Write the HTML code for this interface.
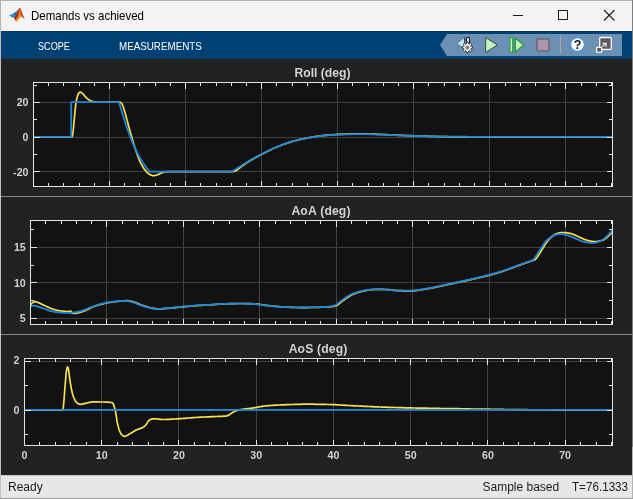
<!DOCTYPE html>
<html><head><meta charset="utf-8"><title>Demands vs achieved</title>
<style>
html,body{margin:0;padding:0;}
body{width:633px;height:499px;overflow:hidden;position:relative;background:#222222;font-family:"Liberation Sans",Arial,sans-serif;}
#win{position:absolute;left:0;top:0;width:633px;height:499px;overflow:hidden;}
#titlebar{position:absolute;left:0;top:0;width:633px;height:30px;background:#f3f3f3;border-top:1px solid #b4b4b4;box-sizing:border-box;}
#tbline{position:absolute;left:0;top:30px;width:633px;height:1px;background:#fffffc;}
#title{position:absolute;left:30.5px;top:9px;font-size:12.4px;line-height:15px;color:#000;white-space:nowrap;transform-origin:0 0;transform:scaleX(0.927);}
#strip{position:absolute;left:0;top:31px;width:633px;height:28px;background:#004073;border-top:1px solid #003366;box-sizing:border-box;}
.tab{position:absolute;top:39px;font-size:10.8px;line-height:14px;color:#fff;white-space:nowrap;transform-origin:0 0;}
#qab{position:absolute;left:0;top:0;}
#plot{position:absolute;left:0;top:59px;width:633px;height:416px;background:#222222;}
.sep{position:absolute;left:1px;width:631px;height:1px;background:#858585;}
#status{position:absolute;left:0;top:475px;width:633px;height:24px;background:#e7e7e7;font-size:12px;color:#1a1a1a;border-top:1px solid #c6c6c6;box-sizing:border-box;}
#status span{position:absolute;top:4px;line-height:14px;white-space:nowrap;}
#lb{position:absolute;left:0;top:0;width:1px;height:499px;background:linear-gradient(#b2b2b2 0,#b2b2b2 31px,#c2c0bb 31px);}
#rb{position:absolute;left:632px;top:0;width:1px;height:499px;background:linear-gradient(#7e7e7e 0,#7e7e7e 447px,#b4b4b4 447px);}
#bb{position:absolute;left:0;top:498px;width:633px;height:1px;background:#9a9a9a;}
svg#ov{position:absolute;left:0;top:0;}
.g{stroke:#424242;stroke-width:1;shape-rendering:crispEdges;}
.t{stroke:#e4e4e4;stroke-width:1;shape-rendering:crispEdges;}
.b{fill:none;stroke:#e4e4e4;stroke-width:1;shape-rendering:crispEdges;}
.y{fill:none;stroke:#f5e04e;stroke-width:1.7;stroke-linejoin:round;}
.bl{fill:none;stroke:#2286d8;stroke-width:1.8;stroke-linejoin:round;}
.yl,.xl,.ttl{position:absolute;font-weight:bold;color:#d2d2d2;white-space:nowrap;}
.yl{font-size:10.67px;line-height:14px;text-align:right;}
.xl{font-size:10.67px;line-height:14px;width:40px;text-align:center;}
.ttl{font-size:12.2px;line-height:14px;width:200px;text-align:center;font-kerning:none;}
</style></head>
<body>
<div id="win">
<div id="titlebar"></div><div id="tbline"></div>
<div id="title">Demands vs achieved</div>
<div id="strip"></div>
<div class="tab" style="left:38px;transform:scaleX(0.845)">SCOPE</div>
<div class="tab" style="left:119px;transform:scaleX(0.908)">MEASUREMENTS</div>
<div id="plot"></div>
<div class="sep" style="top:196px"></div>
<div class="sep" style="top:334px"></div>
<svg id="ov" width="633" height="499" viewBox="0 0 633 499">
<rect x="33.5" y="82.5" width="579.0" height="104.0" fill="#121212"/>
<line x1="109.55" y1="82.5" x2="109.55" y2="186.5" class="g"/>
<line x1="185.60" y1="82.5" x2="185.60" y2="186.5" class="g"/>
<line x1="261.65" y1="82.5" x2="261.65" y2="186.5" class="g"/>
<line x1="337.70" y1="82.5" x2="337.70" y2="186.5" class="g"/>
<line x1="413.75" y1="82.5" x2="413.75" y2="186.5" class="g"/>
<line x1="489.80" y1="82.5" x2="489.80" y2="186.5" class="g"/>
<line x1="565.86" y1="82.5" x2="565.86" y2="186.5" class="g"/>
<line x1="33.5" y1="102.50" x2="612.5" y2="102.50" class="g"/>
<line x1="33.5" y1="137.50" x2="612.5" y2="137.50" class="g"/>
<line x1="33.5" y1="171.50" x2="612.5" y2="171.50" class="g"/>
<svg x="33.5" y="82.5" width="579.0" height="104.0" viewBox="33.5 82.5 579.0 104.0"><path d="M33.5,137.2 L71.8,137.2 L72.3,136.2 L72.8,134.0 L73.3,129.9 L73.8,124.1 L74.3,119.0 L74.8,113.7 L75.3,108.6 L75.8,104.4 L76.3,101.2 L76.8,98.7 L77.3,96.6 L77.8,95.1 L78.3,93.9 L78.8,93.0 L79.3,92.6 L79.8,92.2 L80.3,92.1 L80.8,92.2 L81.3,92.5 L81.8,92.9 L82.3,93.2 L82.8,93.7 L83.3,94.3 L83.8,94.9 L84.3,95.5 L84.8,96.1 L85.3,96.6 L85.8,97.1 L86.3,97.7 L86.8,98.2 L87.3,98.6 L87.8,99.0 L88.3,99.4 L88.8,99.8 L89.3,100.1 L89.8,100.4 L90.3,100.7 L90.8,100.9 L91.3,101.1 L91.8,101.3 L92.3,101.4 L92.8,101.6 L93.3,101.7 L93.8,101.8 L94.3,101.9 L94.8,102.0 L95.3,102.0 L95.8,102.1 L96.3,102.1 L96.8,102.1 L97.3,102.1 L97.8,102.2 L98.3,102.2 L98.8,102.2 L99.3,102.2 L99.8,102.2 L100.0,102.2 L120.0,102.2 L120.5,102.4 L121.0,102.8 L121.5,103.3 L122.0,104.0 L122.5,104.9 L123.0,106.2 L123.5,107.7 L124.0,109.4 L124.5,111.0 L125.0,112.6 L125.5,114.3 L126.0,116.2 L126.5,118.0 L127.0,119.9 L127.5,121.8 L128.0,123.8 L128.5,125.7 L129.0,127.5 L129.5,129.3 L130.0,131.1 L130.5,132.9 L131.0,134.6 L131.5,136.4 L132.0,138.1 L132.5,139.8 L133.0,141.5 L133.5,143.2 L134.0,144.8 L134.5,146.4 L135.0,148.0 L135.5,149.6 L136.0,151.1 L136.5,152.6 L137.0,154.0 L137.5,155.3 L138.0,156.7 L138.5,158.0 L139.0,159.2 L139.5,160.4 L140.0,161.5 L140.5,162.6 L141.0,163.6 L141.5,164.5 L142.0,165.4 L142.5,166.3 L143.0,167.1 L143.5,167.9 L144.0,168.7 L144.5,169.4 L145.0,170.0 L145.5,170.6 L146.0,171.2 L146.5,171.8 L147.0,172.3 L147.5,172.8 L148.0,173.3 L148.5,173.7 L149.0,174.0 L149.5,174.3 L150.0,174.6 L150.5,174.9 L151.0,175.1 L151.5,175.3 L152.0,175.5 L152.5,175.6 L153.0,175.7 L153.5,175.7 L154.0,175.6 L154.5,175.6 L155.0,175.5 L155.5,175.4 L156.0,175.3 L156.5,175.1 L157.0,175.0 L157.5,174.8 L158.0,174.6 L158.5,174.4 L159.0,174.2 L159.5,173.9 L160.0,173.6 L160.5,173.4 L161.0,173.2 L161.5,173.0 L162.0,172.8 L162.5,172.6 L163.0,172.4 L163.5,172.2 L164.0,172.1 L164.5,172.0 L165.0,171.9 L165.5,171.8 L166.0,171.8 L166.5,171.7 L167.0,171.7 L167.5,171.7 L168.0,171.6 L168.5,171.6 L169.0,171.6 L169.5,171.6 L170.0,171.6 L232.8,171.6 L233.3,171.5 L233.8,171.4 L234.3,171.3 L234.8,171.1 L235.3,170.9 L235.8,170.7 L236.3,170.5 L236.8,170.2 L237.3,169.8 L237.8,169.4 L238.3,169.0 L238.8,168.6 L239.3,168.1 L239.8,167.7 L240.3,167.4 L240.8,167.0 L241.3,166.7 L241.8,166.3 L242.3,165.9 L242.8,165.6 L243.3,165.2 L243.8,164.9 L244.3,164.5 L244.8,164.2 L245.3,163.8 L245.8,163.5 L246.3,163.2 L246.8,162.8 L247.3,162.5 L247.8,162.2 L248.3,161.9 L248.8,161.6 L249.3,161.2 L249.8,160.9 L250.3,160.6 L250.8,160.3 L251.3,160.0 L251.8,159.7 L252.3,159.4 L252.8,159.2 L253.3,158.9 L253.8,158.6 L254.3,158.3 L254.8,158.0 L255.3,157.7 L255.8,157.5 L256.3,157.2 L256.8,156.9 L257.3,156.6 L257.8,156.4 L258.3,156.1 L258.8,155.8 L259.3,155.6 L259.8,155.3 L260.3,155.0 L260.8,154.8 L261.3,154.5 L261.8,154.2 L262.3,154.0 L262.8,153.7 L263.3,153.5 L263.8,153.2 L264.3,153.0 L264.8,152.7 L265.3,152.4 L265.8,152.2 L266.3,151.9 L266.8,151.7 L267.3,151.4 L267.8,151.2 L268.3,150.9 L268.8,150.7 L269.3,150.4 L269.8,150.2 L270.3,149.9 L270.8,149.7 L271.3,149.5 L271.8,149.2 L272.3,149.0 L272.8,148.8 L273.3,148.5 L273.8,148.3 L274.3,148.1 L274.8,147.9 L275.3,147.7 L275.8,147.5 L276.3,147.2 L276.8,147.0 L277.3,146.8 L277.8,146.6 L278.3,146.4 L278.8,146.2 L279.3,146.0 L279.8,145.8 L280.3,145.7 L280.8,145.5 L281.3,145.3 L281.8,145.1 L282.3,144.9 L282.8,144.7 L283.3,144.5 L283.8,144.3 L284.3,144.1 L284.8,144.0 L285.3,143.8 L285.8,143.6 L286.3,143.4 L286.8,143.2 L287.3,143.1 L287.8,142.9 L288.3,142.7 L288.8,142.6 L289.3,142.4 L289.8,142.2 L290.3,142.1 L290.8,141.9 L291.3,141.8 L291.8,141.6 L292.3,141.5 L292.8,141.3 L293.3,141.2 L293.8,141.0 L294.3,140.9 L294.8,140.8 L295.3,140.6 L295.8,140.5 L296.3,140.4 L296.8,140.2 L297.3,140.1 L297.8,140.0 L298.3,139.9 L298.8,139.8 L299.3,139.6 L299.8,139.5 L300.3,139.4 L300.8,139.3 L301.3,139.2 L301.8,139.1 L302.3,139.0 L302.8,138.9 L303.3,138.8 L303.8,138.7 L304.3,138.6 L304.8,138.5 L305.3,138.4 L305.8,138.3 L306.3,138.2 L306.8,138.1 L307.3,138.0 L307.8,137.9 L308.3,137.8 L308.8,137.7 L309.3,137.6 L309.8,137.5 L310.3,137.4 L310.8,137.3 L311.3,137.3 L311.8,137.2 L312.3,137.1 L312.8,137.0 L313.3,136.9 L313.8,136.9 L314.3,136.8 L314.8,136.7 L315.3,136.6 L315.8,136.5 L316.3,136.5 L316.8,136.4 L317.3,136.3 L317.8,136.2 L318.3,136.2 L318.8,136.1 L319.3,136.0 L319.8,135.9 L320.3,135.9 L320.8,135.8 L321.3,135.7 L321.8,135.7 L322.3,135.6 L322.8,135.6 L323.3,135.5 L323.8,135.4 L324.3,135.4 L324.8,135.3 L325.3,135.3 L325.8,135.2 L326.3,135.2 L326.8,135.1 L327.3,135.1 L327.8,135.1 L328.3,135.0 L328.8,135.0 L329.3,134.9 L329.8,134.9 L330.3,134.9 L330.8,134.8 L331.3,134.8 L331.8,134.8 L332.3,134.7 L332.8,134.7 L333.3,134.6 L333.8,134.6 L334.3,134.6 L334.8,134.6 L335.3,134.5 L335.8,134.5 L336.3,134.5 L336.8,134.4 L337.3,134.4 L337.8,134.4 L338.3,134.4 L338.8,134.3 L339.3,134.3 L339.8,134.3 L340.3,134.3 L340.8,134.3 L341.3,134.3 L341.8,134.2 L342.3,134.2 L342.8,134.2 L343.3,134.2 L343.8,134.2 L344.3,134.1 L344.8,134.1 L345.3,134.1 L345.8,134.1 L346.3,134.1 L346.8,134.1 L347.3,134.0 L347.8,134.0 L348.3,134.0 L348.8,134.0 L349.3,134.0 L349.8,134.0 L350.3,133.9 L350.8,133.9 L351.3,133.9 L351.8,133.9 L352.3,133.9 L352.8,133.9 L353.3,133.9 L353.8,133.9 L354.3,133.9 L354.8,133.8 L355.3,133.8 L355.8,133.8 L356.3,133.8 L356.8,133.8 L357.3,133.8 L357.8,133.8 L358.3,133.8 L358.8,133.8 L359.3,133.8 L359.8,133.8 L360.3,133.8 L360.8,133.8 L361.3,133.8 L361.8,133.8 L362.3,133.8 L362.8,133.8 L363.3,133.8 L363.8,133.8 L364.3,133.8 L364.8,133.9 L365.3,133.9 L365.8,133.9 L366.3,133.9 L366.8,133.9 L367.3,133.9 L367.8,133.9 L368.3,134.0 L368.8,134.0 L369.3,134.0 L369.8,134.0 L370.3,134.0 L370.8,134.0 L371.3,134.1 L371.8,134.1 L372.3,134.1 L372.8,134.1 L373.3,134.1 L373.8,134.2 L374.3,134.2 L374.8,134.2 L375.3,134.2 L375.8,134.2 L376.3,134.3 L376.8,134.3 L377.3,134.3 L377.8,134.3 L378.3,134.3 L378.8,134.4 L379.3,134.4 L379.8,134.4 L380.3,134.4 L380.8,134.4 L381.3,134.4 L381.8,134.5 L382.3,134.5 L382.8,134.5 L383.3,134.5 L383.8,134.6 L384.3,134.6 L384.8,134.6 L385.3,134.6 L385.8,134.6 L386.3,134.7 L386.8,134.7 L387.3,134.7 L387.8,134.7 L388.3,134.8 L388.8,134.8 L389.3,134.8 L389.8,134.8 L390.3,134.9 L390.8,134.9 L391.3,134.9 L391.8,134.9 L392.3,135.0 L392.8,135.0 L393.3,135.0 L393.8,135.0 L394.3,135.0 L394.8,135.1 L395.3,135.1 L395.8,135.1 L396.3,135.1 L396.8,135.2 L397.3,135.2 L397.8,135.2 L398.3,135.2 L398.8,135.3 L399.3,135.3 L399.8,135.3 L400.3,135.3 L400.8,135.3 L401.3,135.4 L401.8,135.4 L402.3,135.4 L402.8,135.4 L403.3,135.4 L403.8,135.4 L404.3,135.5 L404.8,135.5 L405.3,135.5 L405.8,135.5 L406.3,135.5 L406.8,135.6 L407.3,135.6 L407.8,135.6 L408.3,135.6 L408.8,135.6 L409.3,135.6 L409.8,135.7 L410.3,135.7 L410.8,135.7 L411.3,135.7 L411.8,135.7 L412.3,135.7 L412.8,135.8 L413.3,135.8 L413.8,135.8 L414.3,135.8 L414.8,135.8 L415.3,135.8 L415.8,135.9 L416.3,135.9 L416.8,135.9 L417.3,135.9 L417.8,135.9 L418.3,135.9 L418.8,136.0 L419.3,136.0 L419.8,136.0 L420.3,136.0 L420.8,136.0 L421.3,136.0 L421.8,136.1 L422.3,136.1 L422.8,136.1 L423.3,136.1 L423.8,136.1 L424.3,136.1 L424.8,136.2 L425.3,136.2 L425.8,136.2 L426.3,136.2 L426.8,136.2 L427.3,136.2 L427.8,136.3 L428.3,136.3 L428.8,136.3 L429.3,136.3 L429.8,136.3 L430.3,136.3 L430.8,136.4 L431.3,136.4 L431.8,136.4 L432.3,136.4 L432.8,136.4 L433.3,136.4 L433.8,136.5 L434.3,136.5 L434.8,136.5 L435.3,136.5 L435.8,136.5 L436.3,136.5 L436.8,136.5 L437.3,136.6 L437.8,136.6 L438.3,136.6 L438.8,136.6 L439.3,136.6 L439.8,136.6 L440.3,136.6 L440.8,136.6 L441.3,136.7 L441.8,136.7 L442.3,136.7 L442.8,136.7 L443.3,136.7 L443.8,136.7 L444.3,136.7 L444.8,136.7 L445.3,136.7 L445.8,136.7 L446.3,136.7 L446.8,136.7 L447.3,136.7 L447.8,136.7 L448.3,136.8 L448.8,136.8 L449.3,136.8 L449.8,136.8 L450.3,136.8 L450.8,136.8 L451.3,136.8 L451.8,136.8 L452.3,136.8 L452.8,136.8 L453.3,136.8 L453.8,136.8 L454.3,136.8 L454.8,136.8 L455.3,136.8 L455.8,136.8 L456.3,136.8 L456.8,136.8 L457.3,136.8 L457.8,136.8 L458.3,136.9 L458.8,136.9 L459.3,136.9 L459.8,136.9 L460.3,136.9 L460.8,136.9 L461.3,136.9 L461.8,136.9 L462.3,136.9 L462.8,136.9 L463.3,136.9 L463.8,136.9 L464.3,136.9 L464.8,136.9 L465.3,136.9 L465.8,136.9 L466.3,136.9 L466.8,136.9 L467.3,136.9 L467.8,136.9 L468.3,136.9 L468.8,136.9 L469.3,136.9 L469.8,136.9 L470.3,136.9 L470.8,136.9 L471.3,136.9 L471.8,136.9 L472.3,137.0 L472.8,137.0 L473.3,137.0 L473.8,137.0 L474.3,137.0 L474.8,137.0 L475.3,137.0 L475.8,137.0 L476.3,137.0 L476.8,137.0 L477.3,137.0 L477.8,137.0 L478.3,137.0 L478.8,137.0 L479.3,137.0 L479.8,137.0 L480.3,137.0 L480.8,137.0 L481.3,137.0 L481.8,137.0 L482.3,137.0 L482.8,137.0 L483.3,137.0 L483.8,137.0 L484.3,137.0 L484.8,137.0 L485.3,137.0 L485.8,137.0 L486.3,137.0 L486.8,137.0 L487.3,137.0 L487.8,137.0 L488.3,137.1 L488.8,137.1 L489.3,137.1 L489.8,137.1 L490.3,137.1 L490.8,137.1 L491.3,137.1 L491.8,137.1 L492.3,137.1 L492.8,137.1 L493.3,137.1 L493.8,137.1 L494.3,137.1 L494.8,137.1 L495.3,137.1 L495.8,137.1 L496.3,137.1 L496.8,137.1 L497.3,137.1 L497.8,137.1 L498.3,137.1 L498.8,137.1 L499.3,137.1 L499.8,137.1 L500.3,137.1 L500.8,137.1 L501.3,137.1 L501.8,137.1 L502.3,137.1 L502.8,137.1 L503.3,137.1 L503.8,137.1 L504.3,137.1 L504.8,137.1 L505.3,137.1 L505.8,137.1 L506.3,137.1 L506.8,137.1 L507.3,137.2 L507.8,137.2 L508.3,137.2 L508.8,137.2 L509.3,137.2 L509.8,137.2 L510.3,137.2 L510.8,137.2 L511.3,137.2 L511.8,137.2 L512.3,137.2 L512.8,137.2 L513.3,137.2 L513.8,137.2 L514.3,137.2 L514.8,137.2 L515.3,137.2 L515.8,137.2 L516.3,137.2 L516.8,137.2 L517.3,137.2 L517.8,137.2 L518.3,137.2 L518.8,137.2 L519.3,137.2 L519.8,137.2 L520.0,137.2 L612.5,137.2" class="y"/><path d="M33.5,136.9 L71.2,136.9 L71.2,102.2 L119.0,102.2 L119.5,103.9 L120.0,105.6 L120.5,107.3 L121.0,109.0 L121.5,110.6 L122.0,112.3 L122.5,113.9 L123.0,115.5 L123.5,117.1 L124.0,118.7 L124.5,120.3 L125.0,121.9 L125.5,123.5 L126.0,125.1 L126.5,126.6 L127.0,128.0 L127.5,129.4 L128.0,130.8 L128.5,132.2 L129.0,133.5 L129.5,134.8 L130.0,136.1 L130.5,137.4 L131.0,138.7 L131.5,139.9 L132.0,141.1 L132.5,142.3 L133.0,143.5 L133.5,144.6 L134.0,145.8 L134.5,146.9 L135.0,148.0 L135.5,149.1 L136.0,150.1 L136.5,151.2 L137.0,152.2 L137.5,153.3 L138.0,154.3 L138.5,155.3 L139.0,156.2 L139.5,157.1 L140.0,158.1 L140.5,158.9 L141.0,159.8 L141.5,160.6 L142.0,161.4 L142.5,162.2 L143.0,163.0 L143.5,163.7 L144.0,164.4 L144.5,165.1 L145.0,165.8 L145.5,166.5 L146.0,167.2 L146.5,167.9 L147.0,168.6 L147.5,169.2 L148.0,169.9 L148.5,170.5 L149.0,171.1 L149.4,171.6 L231.8,171.6 L232.3,171.3 L232.8,171.0 L233.3,170.7 L233.8,170.4 L234.3,170.1 L234.8,169.8 L235.3,169.5 L235.8,169.2 L236.3,168.9 L236.8,168.6 L237.3,168.2 L237.8,167.9 L238.3,167.6 L238.8,167.3 L239.3,167.0 L239.8,166.7 L240.3,166.4 L240.8,166.1 L241.3,165.7 L241.8,165.4 L242.3,165.1 L242.8,164.8 L243.3,164.5 L243.8,164.1 L244.3,163.8 L244.8,163.5 L245.3,163.2 L245.8,162.9 L246.3,162.6 L246.8,162.3 L247.3,162.0 L247.8,161.7 L248.3,161.4 L248.8,161.1 L249.3,160.8 L249.8,160.5 L250.3,160.2 L250.8,159.9 L251.3,159.6 L251.8,159.4 L252.3,159.1 L252.8,158.8 L253.3,158.5 L253.8,158.2 L254.3,158.0 L254.8,157.7 L255.3,157.4 L255.8,157.2 L256.3,156.9 L256.8,156.6 L257.3,156.4 L257.8,156.1 L258.3,155.8 L258.8,155.6 L259.3,155.3 L259.8,155.1 L260.3,154.8 L260.8,154.6 L261.3,154.3 L261.8,154.0 L262.3,153.8 L262.8,153.5 L263.3,153.3 L263.8,153.0 L264.3,152.8 L264.8,152.5 L265.3,152.3 L265.8,152.0 L266.3,151.8 L266.8,151.5 L267.3,151.3 L267.8,151.0 L268.3,150.8 L268.8,150.5 L269.3,150.3 L269.8,150.1 L270.3,149.8 L270.8,149.6 L271.3,149.3 L271.8,149.1 L272.3,148.9 L272.8,148.6 L273.3,148.4 L273.8,148.2 L274.3,148.0 L274.8,147.8 L275.3,147.6 L275.8,147.3 L276.3,147.1 L276.8,146.9 L277.3,146.7 L277.8,146.5 L278.3,146.3 L278.8,146.2 L279.3,146.0 L279.8,145.8 L280.3,145.6 L280.8,145.4 L281.3,145.2 L281.8,145.0 L282.3,144.8 L282.8,144.6 L283.3,144.4 L283.8,144.3 L284.3,144.1 L284.8,143.9 L285.3,143.7 L285.8,143.5 L286.3,143.4 L286.8,143.2 L287.3,143.0 L287.8,142.9 L288.3,142.7 L288.8,142.5 L289.3,142.4 L289.8,142.2 L290.3,142.0 L290.8,141.9 L291.3,141.7 L291.8,141.6 L292.3,141.4 L292.8,141.3 L293.3,141.2 L293.8,141.0 L294.3,140.9 L294.8,140.8 L295.3,140.6 L295.8,140.5 L296.3,140.4 L296.8,140.3 L297.3,140.1 L297.8,140.0 L298.3,139.9 L298.8,139.8 L299.3,139.7 L299.8,139.6 L300.3,139.4 L300.8,139.3 L301.3,139.2 L301.8,139.1 L302.3,139.0 L302.8,138.9 L303.3,138.8 L303.8,138.7 L304.3,138.6 L304.8,138.5 L305.3,138.4 L305.8,138.3 L306.3,138.2 L306.8,138.1 L307.3,138.0 L307.8,137.9 L308.3,137.9 L308.8,137.8 L309.3,137.7 L309.8,137.6 L310.3,137.5 L310.8,137.4 L311.3,137.4 L311.8,137.3 L312.3,137.2 L312.8,137.1 L313.3,137.0 L313.8,137.0 L314.3,136.9 L314.8,136.8 L315.3,136.7 L315.8,136.7 L316.3,136.6 L316.8,136.5 L317.3,136.4 L317.8,136.4 L318.3,136.3 L318.8,136.2 L319.3,136.2 L319.8,136.1 L320.3,136.0 L320.8,136.0 L321.3,135.9 L321.8,135.8 L322.3,135.8 L322.8,135.7 L323.3,135.7 L323.8,135.6 L324.3,135.6 L324.8,135.5 L325.3,135.5 L325.8,135.4 L326.3,135.4 L326.8,135.4 L327.3,135.3 L327.8,135.3 L328.3,135.2 L328.8,135.2 L329.3,135.2 L329.8,135.1 L330.3,135.1 L330.8,135.1 L331.3,135.0 L331.8,135.0 L332.3,135.0 L332.8,134.9 L333.3,134.9 L333.8,134.9 L334.3,134.9 L334.8,134.8 L335.3,134.8 L335.8,134.8 L336.3,134.8 L336.8,134.7 L337.3,134.7 L337.8,134.7 L338.3,134.7 L338.8,134.6 L339.3,134.6 L339.8,134.6 L340.3,134.6 L340.8,134.6 L341.3,134.6 L341.8,134.5 L342.3,134.5 L342.8,134.5 L343.3,134.5 L343.8,134.5 L344.3,134.4 L344.8,134.4 L345.3,134.4 L345.8,134.4 L346.3,134.4 L346.8,134.4 L347.3,134.3 L347.8,134.3 L348.3,134.3 L348.8,134.3 L349.3,134.3 L349.8,134.3 L350.3,134.3 L350.8,134.2 L351.3,134.2 L351.8,134.2 L352.3,134.2 L352.8,134.2 L353.3,134.2 L353.8,134.2 L354.3,134.2 L354.8,134.1 L355.3,134.1 L355.8,134.1 L356.3,134.1 L356.8,134.1 L357.3,134.1 L357.8,134.1 L358.3,134.1 L358.8,134.1 L359.3,134.1 L359.8,134.1 L360.3,134.1 L360.8,134.1 L361.3,134.1 L361.8,134.1 L362.3,134.1 L362.8,134.1 L363.3,134.1 L363.8,134.1 L364.3,134.1 L364.8,134.1 L365.3,134.2 L365.8,134.2 L366.3,134.2 L366.8,134.2 L367.3,134.2 L367.8,134.2 L368.3,134.2 L368.8,134.2 L369.3,134.3 L369.8,134.3 L370.3,134.3 L370.8,134.3 L371.3,134.3 L371.8,134.3 L372.3,134.3 L372.8,134.4 L373.3,134.4 L373.8,134.4 L374.3,134.4 L374.8,134.4 L375.3,134.4 L375.8,134.5 L376.3,134.5 L376.8,134.5 L377.3,134.5 L377.8,134.5 L378.3,134.5 L378.8,134.6 L379.3,134.6 L379.8,134.6 L380.3,134.6 L380.8,134.6 L381.3,134.6 L381.8,134.7 L382.3,134.7 L382.8,134.7 L383.3,134.7 L383.8,134.7 L384.3,134.7 L384.8,134.8 L385.3,134.8 L385.8,134.8 L386.3,134.8 L386.8,134.8 L387.3,134.9 L387.8,134.9 L388.3,134.9 L388.8,134.9 L389.3,135.0 L389.8,135.0 L390.3,135.0 L390.8,135.0 L391.3,135.0 L391.8,135.1 L392.3,135.1 L392.8,135.1 L393.3,135.1 L393.8,135.1 L394.3,135.2 L394.8,135.2 L395.3,135.2 L395.8,135.2 L396.3,135.3 L396.8,135.3 L397.3,135.3 L397.8,135.3 L398.3,135.3 L398.8,135.4 L399.3,135.4 L399.8,135.4 L400.3,135.4 L400.8,135.4 L401.3,135.4 L401.8,135.5 L402.3,135.5 L402.8,135.5 L403.3,135.5 L403.8,135.5 L404.3,135.6 L404.8,135.6 L405.3,135.6 L405.8,135.6 L406.3,135.6 L406.8,135.7 L407.3,135.7 L407.8,135.7 L408.3,135.7 L408.8,135.7 L409.3,135.8 L409.8,135.8 L410.3,135.8 L410.8,135.8 L411.3,135.8 L411.8,135.8 L412.3,135.9 L412.8,135.9 L413.3,135.9 L413.8,135.9 L414.3,135.9 L414.8,135.9 L415.3,136.0 L415.8,136.0 L416.3,136.0 L416.8,136.0 L417.3,136.0 L417.8,136.0 L418.3,136.1 L418.8,136.1 L419.3,136.1 L419.8,136.1 L420.3,136.1 L420.8,136.1 L421.3,136.1 L421.8,136.1 L422.3,136.2 L422.8,136.2 L423.3,136.2 L423.8,136.2 L424.3,136.2 L424.8,136.2 L425.3,136.2 L425.8,136.3 L426.3,136.3 L426.8,136.3 L427.3,136.3 L427.8,136.3 L428.3,136.3 L428.8,136.3 L429.3,136.3 L429.8,136.4 L430.3,136.4 L430.8,136.4 L431.3,136.4 L431.8,136.4 L432.3,136.4 L432.8,136.4 L433.3,136.4 L433.8,136.4 L434.3,136.5 L434.8,136.5 L435.3,136.5 L435.8,136.5 L436.3,136.5 L436.8,136.5 L437.3,136.5 L437.8,136.5 L438.3,136.5 L438.8,136.5 L439.3,136.5 L439.8,136.5 L440.3,136.6 L440.8,136.6 L441.3,136.6 L441.8,136.6 L442.3,136.6 L442.8,136.6 L443.3,136.6 L443.8,136.6 L444.3,136.6 L444.8,136.6 L445.3,136.6 L445.8,136.6 L446.3,136.6 L446.8,136.6 L447.3,136.6 L447.8,136.6 L448.3,136.6 L448.8,136.6 L449.3,136.6 L449.8,136.6 L450.3,136.7 L450.8,136.7 L451.3,136.7 L451.8,136.7 L452.3,136.7 L452.8,136.7 L453.3,136.7 L453.8,136.7 L454.3,136.7 L454.8,136.7 L455.3,136.7 L455.8,136.7 L456.3,136.7 L456.8,136.7 L457.3,136.7 L457.8,136.7 L458.3,136.7 L458.8,136.7 L459.3,136.7 L459.8,136.7 L460.3,136.7 L460.8,136.7 L461.3,136.7 L461.8,136.7 L462.3,136.7 L462.8,136.7 L463.3,136.7 L463.8,136.7 L464.3,136.7 L464.8,136.7 L465.3,136.7 L465.8,136.7 L466.3,136.7 L466.8,136.7 L467.3,136.8 L467.8,136.8 L468.3,136.8 L468.8,136.8 L469.3,136.8 L469.8,136.8 L470.3,136.8 L470.8,136.8 L471.3,136.8 L471.8,136.8 L472.3,136.8 L472.8,136.8 L473.3,136.8 L473.8,136.8 L474.3,136.8 L474.8,136.8 L475.3,136.8 L475.8,136.8 L476.3,136.8 L476.8,136.8 L477.3,136.8 L477.8,136.8 L478.3,136.8 L478.8,136.8 L479.3,136.8 L479.8,136.8 L480.3,136.8 L480.8,136.8 L481.3,136.8 L481.8,136.8 L482.3,136.8 L482.8,136.8 L483.3,136.8 L483.8,136.8 L484.3,136.8 L484.8,136.8 L485.3,136.8 L485.8,136.8 L486.3,136.8 L486.8,136.8 L487.3,136.8 L487.8,136.8 L488.3,136.8 L488.8,136.8 L489.3,136.8 L489.8,136.8 L490.3,136.8 L490.8,136.8 L491.3,136.8 L491.8,136.8 L492.3,136.8 L492.8,136.8 L493.3,136.8 L493.8,136.8 L494.3,136.8 L494.8,136.8 L495.3,136.8 L495.8,136.9 L496.3,136.9 L496.8,136.9 L497.3,136.9 L497.8,136.9 L498.3,136.9 L498.8,136.9 L499.3,136.9 L499.8,136.9 L500.3,136.9 L500.8,136.9 L501.3,136.9 L501.8,136.9 L502.3,136.9 L502.8,136.9 L503.3,136.9 L503.8,136.9 L504.3,136.9 L504.8,136.9 L505.3,136.9 L505.8,136.9 L506.3,136.9 L506.8,136.9 L507.3,136.9 L507.8,136.9 L508.3,136.9 L508.8,136.9 L509.3,136.9 L509.8,136.9 L510.3,136.9 L510.8,136.9 L511.3,136.9 L511.8,136.9 L512.3,136.9 L512.8,136.9 L513.3,136.9 L513.8,136.9 L514.3,136.9 L514.8,136.9 L515.3,136.9 L515.8,136.9 L516.3,136.9 L516.8,136.9 L517.3,136.9 L517.8,136.9 L518.3,136.9 L518.8,136.9 L519.3,136.9 L519.8,136.9 L520.0,136.9 L612.5,136.9" class="bl"/></svg>
<line x1="33.50" y1="82.5" x2="33.50" y2="88.5" class="t"/>
<line x1="33.50" y1="186.5" x2="33.50" y2="180.5" class="t"/>
<line x1="109.55" y1="82.5" x2="109.55" y2="88.5" class="t"/>
<line x1="109.55" y1="186.5" x2="109.55" y2="180.5" class="t"/>
<line x1="185.60" y1="82.5" x2="185.60" y2="88.5" class="t"/>
<line x1="185.60" y1="186.5" x2="185.60" y2="180.5" class="t"/>
<line x1="261.65" y1="82.5" x2="261.65" y2="88.5" class="t"/>
<line x1="261.65" y1="186.5" x2="261.65" y2="180.5" class="t"/>
<line x1="337.70" y1="82.5" x2="337.70" y2="88.5" class="t"/>
<line x1="337.70" y1="186.5" x2="337.70" y2="180.5" class="t"/>
<line x1="413.75" y1="82.5" x2="413.75" y2="88.5" class="t"/>
<line x1="413.75" y1="186.5" x2="413.75" y2="180.5" class="t"/>
<line x1="489.80" y1="82.5" x2="489.80" y2="88.5" class="t"/>
<line x1="489.80" y1="186.5" x2="489.80" y2="180.5" class="t"/>
<line x1="565.86" y1="82.5" x2="565.86" y2="88.5" class="t"/>
<line x1="565.86" y1="186.5" x2="565.86" y2="180.5" class="t"/>
<line x1="48.71" y1="82.5" x2="48.71" y2="86.0" class="t"/>
<line x1="48.71" y1="186.5" x2="48.71" y2="183.0" class="t"/>
<line x1="63.92" y1="82.5" x2="63.92" y2="86.0" class="t"/>
<line x1="63.92" y1="186.5" x2="63.92" y2="183.0" class="t"/>
<line x1="79.13" y1="82.5" x2="79.13" y2="86.0" class="t"/>
<line x1="79.13" y1="186.5" x2="79.13" y2="183.0" class="t"/>
<line x1="94.34" y1="82.5" x2="94.34" y2="86.0" class="t"/>
<line x1="94.34" y1="186.5" x2="94.34" y2="183.0" class="t"/>
<line x1="124.76" y1="82.5" x2="124.76" y2="86.0" class="t"/>
<line x1="124.76" y1="186.5" x2="124.76" y2="183.0" class="t"/>
<line x1="139.97" y1="82.5" x2="139.97" y2="86.0" class="t"/>
<line x1="139.97" y1="186.5" x2="139.97" y2="183.0" class="t"/>
<line x1="155.18" y1="82.5" x2="155.18" y2="86.0" class="t"/>
<line x1="155.18" y1="186.5" x2="155.18" y2="183.0" class="t"/>
<line x1="170.39" y1="82.5" x2="170.39" y2="86.0" class="t"/>
<line x1="170.39" y1="186.5" x2="170.39" y2="183.0" class="t"/>
<line x1="200.81" y1="82.5" x2="200.81" y2="86.0" class="t"/>
<line x1="200.81" y1="186.5" x2="200.81" y2="183.0" class="t"/>
<line x1="216.02" y1="82.5" x2="216.02" y2="86.0" class="t"/>
<line x1="216.02" y1="186.5" x2="216.02" y2="183.0" class="t"/>
<line x1="231.23" y1="82.5" x2="231.23" y2="86.0" class="t"/>
<line x1="231.23" y1="186.5" x2="231.23" y2="183.0" class="t"/>
<line x1="246.44" y1="82.5" x2="246.44" y2="86.0" class="t"/>
<line x1="246.44" y1="186.5" x2="246.44" y2="183.0" class="t"/>
<line x1="276.86" y1="82.5" x2="276.86" y2="86.0" class="t"/>
<line x1="276.86" y1="186.5" x2="276.86" y2="183.0" class="t"/>
<line x1="292.07" y1="82.5" x2="292.07" y2="86.0" class="t"/>
<line x1="292.07" y1="186.5" x2="292.07" y2="183.0" class="t"/>
<line x1="307.28" y1="82.5" x2="307.28" y2="86.0" class="t"/>
<line x1="307.28" y1="186.5" x2="307.28" y2="183.0" class="t"/>
<line x1="322.49" y1="82.5" x2="322.49" y2="86.0" class="t"/>
<line x1="322.49" y1="186.5" x2="322.49" y2="183.0" class="t"/>
<line x1="352.91" y1="82.5" x2="352.91" y2="86.0" class="t"/>
<line x1="352.91" y1="186.5" x2="352.91" y2="183.0" class="t"/>
<line x1="368.12" y1="82.5" x2="368.12" y2="86.0" class="t"/>
<line x1="368.12" y1="186.5" x2="368.12" y2="183.0" class="t"/>
<line x1="383.33" y1="82.5" x2="383.33" y2="86.0" class="t"/>
<line x1="383.33" y1="186.5" x2="383.33" y2="183.0" class="t"/>
<line x1="398.54" y1="82.5" x2="398.54" y2="86.0" class="t"/>
<line x1="398.54" y1="186.5" x2="398.54" y2="183.0" class="t"/>
<line x1="428.96" y1="82.5" x2="428.96" y2="86.0" class="t"/>
<line x1="428.96" y1="186.5" x2="428.96" y2="183.0" class="t"/>
<line x1="444.17" y1="82.5" x2="444.17" y2="86.0" class="t"/>
<line x1="444.17" y1="186.5" x2="444.17" y2="183.0" class="t"/>
<line x1="459.38" y1="82.5" x2="459.38" y2="86.0" class="t"/>
<line x1="459.38" y1="186.5" x2="459.38" y2="183.0" class="t"/>
<line x1="474.59" y1="82.5" x2="474.59" y2="86.0" class="t"/>
<line x1="474.59" y1="186.5" x2="474.59" y2="183.0" class="t"/>
<line x1="505.02" y1="82.5" x2="505.02" y2="86.0" class="t"/>
<line x1="505.02" y1="186.5" x2="505.02" y2="183.0" class="t"/>
<line x1="520.23" y1="82.5" x2="520.23" y2="86.0" class="t"/>
<line x1="520.23" y1="186.5" x2="520.23" y2="183.0" class="t"/>
<line x1="535.44" y1="82.5" x2="535.44" y2="86.0" class="t"/>
<line x1="535.44" y1="186.5" x2="535.44" y2="183.0" class="t"/>
<line x1="550.65" y1="82.5" x2="550.65" y2="86.0" class="t"/>
<line x1="550.65" y1="186.5" x2="550.65" y2="183.0" class="t"/>
<line x1="581.07" y1="82.5" x2="581.07" y2="86.0" class="t"/>
<line x1="581.07" y1="186.5" x2="581.07" y2="183.0" class="t"/>
<line x1="596.28" y1="82.5" x2="596.28" y2="86.0" class="t"/>
<line x1="596.28" y1="186.5" x2="596.28" y2="183.0" class="t"/>
<line x1="611.49" y1="82.5" x2="611.49" y2="86.0" class="t"/>
<line x1="611.49" y1="186.5" x2="611.49" y2="183.0" class="t"/>
<line x1="33.5" y1="102.50" x2="39.5" y2="102.50" class="t"/>
<line x1="612.5" y1="102.50" x2="606.5" y2="102.50" class="t"/>
<line x1="33.5" y1="137.50" x2="39.5" y2="137.50" class="t"/>
<line x1="612.5" y1="137.50" x2="606.5" y2="137.50" class="t"/>
<line x1="33.5" y1="171.50" x2="39.5" y2="171.50" class="t"/>
<line x1="612.5" y1="171.50" x2="606.5" y2="171.50" class="t"/>
<line x1="33.5" y1="85.50" x2="37.0" y2="85.50" class="t"/>
<line x1="612.5" y1="85.50" x2="609.0" y2="85.50" class="t"/>
<line x1="33.5" y1="119.50" x2="37.0" y2="119.50" class="t"/>
<line x1="612.5" y1="119.50" x2="609.0" y2="119.50" class="t"/>
<line x1="33.5" y1="154.50" x2="37.0" y2="154.50" class="t"/>
<line x1="612.5" y1="154.50" x2="609.0" y2="154.50" class="t"/>
<rect x="33.5" y="82.5" width="579.0" height="104.0" class="b"/>
<rect x="30.5" y="220.5" width="582.0" height="104.0" fill="#121212"/>
<line x1="106.94" y1="220.5" x2="106.94" y2="324.5" class="g"/>
<line x1="183.39" y1="220.5" x2="183.39" y2="324.5" class="g"/>
<line x1="259.83" y1="220.5" x2="259.83" y2="324.5" class="g"/>
<line x1="336.28" y1="220.5" x2="336.28" y2="324.5" class="g"/>
<line x1="412.72" y1="220.5" x2="412.72" y2="324.5" class="g"/>
<line x1="489.17" y1="220.5" x2="489.17" y2="324.5" class="g"/>
<line x1="565.61" y1="220.5" x2="565.61" y2="324.5" class="g"/>
<line x1="30.5" y1="247.50" x2="612.5" y2="247.50" class="g"/>
<line x1="30.5" y1="282.50" x2="612.5" y2="282.50" class="g"/>
<line x1="30.5" y1="318.50" x2="612.5" y2="318.50" class="g"/>
<svg x="30.5" y="220.5" width="582.0" height="104.0" viewBox="30.5 220.5 582.0 104.0"><path d="M30.5,305.2 L31.0,304.3 L31.5,303.5 L32.0,303.0 L32.5,302.7 L33.0,302.4 L33.5,302.1 L34.0,301.9 L34.5,301.8 L35.0,301.7 L35.5,301.7 L36.0,301.8 L36.5,301.9 L37.0,302.1 L37.5,302.3 L38.0,302.5 L38.5,302.7 L39.0,302.9 L39.5,303.1 L40.0,303.3 L40.5,303.6 L41.0,303.8 L41.5,304.1 L42.0,304.3 L42.5,304.6 L43.0,304.8 L43.5,305.1 L44.0,305.3 L44.5,305.5 L45.0,305.8 L45.5,306.0 L46.0,306.2 L46.5,306.4 L47.0,306.7 L47.5,306.9 L48.0,307.1 L48.5,307.3 L49.0,307.6 L49.5,307.8 L50.0,308.0 L50.5,308.2 L51.0,308.4 L51.5,308.5 L52.0,308.7 L52.5,308.9 L53.0,309.0 L53.5,309.2 L54.0,309.4 L54.5,309.5 L55.0,309.7 L55.5,309.9 L56.0,310.0 L56.5,310.1 L57.0,310.3 L57.5,310.4 L58.0,310.5 L58.5,310.6 L59.0,310.7 L59.5,310.8 L60.0,310.9 L60.5,310.9 L61.0,311.0 L61.5,311.0 L62.0,311.1 L62.5,311.2 L63.0,311.2 L63.5,311.3 L64.0,311.3 L64.5,311.4 L65.0,311.4 L65.5,311.4 L66.0,311.5 L66.5,311.5 L67.0,311.5 L67.5,311.5 L68.0,311.5 L68.5,311.5 L69.0,311.4 L69.5,311.4 L70.0,311.3 L70.5,311.3 L71.0,311.2 L71.2,311.2 L71.6,313.0 L72.1,313.1 L72.6,313.2 L73.1,313.2 L73.6,313.3 L74.1,313.3 L74.6,313.3 L75.1,313.3 L75.6,313.3 L76.1,313.2 L76.6,313.2 L77.1,313.1 L77.6,312.9 L78.1,312.8 L78.6,312.7 L79.1,312.6 L79.6,312.4 L80.1,312.3 L80.6,312.2 L81.1,312.0 L81.6,311.9 L82.1,311.7 L82.6,311.5 L83.1,311.3 L83.6,311.2 L84.1,311.0 L84.6,310.8 L85.1,310.6 L85.6,310.4 L86.1,310.2 L86.6,309.9 L87.1,309.7 L87.6,309.5 L88.1,309.2 L88.6,309.0 L89.1,308.7 L89.6,308.4 L90.1,308.2 L90.6,307.9 L91.1,307.7 L91.6,307.5 L92.1,307.2 L92.6,307.0 L93.1,306.9 L93.6,306.7 L94.1,306.5 L94.6,306.3 L95.1,306.1 L95.6,306.0 L96.1,305.8 L96.6,305.6 L97.1,305.5 L97.6,305.3 L98.1,305.2 L98.6,305.0 L99.1,304.9 L99.6,304.7 L100.1,304.6 L100.6,304.5 L101.1,304.3 L101.6,304.2 L102.1,304.1 L102.6,303.9 L103.1,303.8 L103.6,303.7 L104.1,303.5 L104.6,303.4 L105.1,303.3 L105.6,303.2 L106.1,303.1 L106.6,303.0 L107.1,302.9 L107.6,302.8 L108.1,302.7 L108.6,302.6 L109.1,302.5 L109.6,302.4 L110.1,302.3 L110.6,302.3 L111.1,302.2 L111.6,302.1 L112.1,302.0 L112.6,302.0 L113.1,301.9 L113.6,301.8 L114.1,301.8 L114.6,301.7 L115.1,301.7 L115.6,301.6 L116.1,301.5 L116.6,301.5 L117.1,301.4 L117.6,301.4 L118.1,301.3 L118.6,301.3 L119.1,301.2 L119.6,301.2 L120.1,301.1 L120.6,301.1 L121.1,301.1 L121.6,301.0 L122.1,301.0 L122.6,300.9 L123.1,300.9 L123.6,300.8 L124.1,300.8 L124.6,300.8 L125.1,300.8 L125.6,300.7 L126.1,300.7 L126.6,300.7 L127.1,300.7 L127.6,300.7 L128.1,300.7 L128.6,300.8 L129.1,300.8 L129.6,300.9 L130.1,301.0 L130.6,301.1 L131.1,301.3 L131.6,301.4 L132.1,301.5 L132.6,301.6 L133.1,301.8 L133.6,301.9 L134.1,302.0 L134.6,302.2 L135.1,302.4 L135.6,302.5 L136.1,302.7 L136.6,302.9 L137.1,303.2 L137.6,303.4 L138.1,303.6 L138.6,303.8 L139.1,304.0 L139.6,304.3 L140.1,304.5 L140.6,304.7 L141.1,304.9 L141.6,305.0 L142.1,305.2 L142.6,305.4 L143.1,305.6 L143.6,305.7 L144.1,305.9 L144.6,306.1 L145.1,306.3 L145.6,306.4 L146.1,306.6 L146.6,306.8 L147.1,306.9 L147.6,307.1 L148.1,307.2 L148.6,307.3 L149.1,307.4 L149.6,307.5 L150.1,307.6 L150.6,307.7 L151.1,307.9 L151.6,308.0 L152.1,308.1 L152.6,308.2 L153.1,308.3 L153.6,308.3 L154.1,308.4 L154.6,308.5 L155.1,308.6 L155.6,308.7 L156.1,308.7 L156.6,308.8 L157.1,308.8 L157.6,308.9 L158.1,308.9 L158.6,308.9 L159.1,308.9 L159.6,308.9 L160.1,308.9 L160.6,308.9 L161.1,308.8 L161.6,308.8 L162.1,308.8 L162.6,308.8 L163.1,308.7 L163.6,308.7 L164.1,308.7 L164.6,308.6 L165.1,308.6 L165.6,308.5 L166.1,308.5 L166.6,308.4 L167.1,308.4 L167.6,308.4 L168.1,308.3 L168.6,308.3 L169.1,308.2 L169.6,308.2 L170.1,308.2 L170.6,308.1 L171.1,308.1 L171.6,308.0 L172.1,308.0 L172.6,307.9 L173.1,307.9 L173.6,307.8 L174.1,307.8 L174.6,307.7 L175.1,307.7 L175.6,307.6 L176.1,307.6 L176.6,307.5 L177.1,307.4 L177.6,307.4 L178.1,307.3 L178.6,307.3 L179.1,307.2 L179.6,307.2 L180.1,307.1 L180.6,307.1 L181.1,307.0 L181.6,307.0 L182.1,306.9 L182.6,306.9 L183.1,306.8 L183.6,306.8 L184.1,306.7 L184.6,306.7 L185.1,306.6 L185.6,306.6 L186.1,306.5 L186.6,306.5 L187.1,306.4 L187.6,306.4 L188.1,306.3 L188.6,306.3 L189.1,306.3 L189.6,306.2 L190.1,306.2 L190.6,306.1 L191.1,306.1 L191.6,306.0 L192.1,306.0 L192.6,306.0 L193.1,305.9 L193.6,305.9 L194.1,305.8 L194.6,305.8 L195.1,305.8 L195.6,305.7 L196.1,305.7 L196.6,305.6 L197.1,305.6 L197.6,305.6 L198.1,305.5 L198.6,305.5 L199.1,305.5 L199.6,305.4 L200.1,305.4 L200.6,305.4 L201.1,305.3 L201.6,305.3 L202.1,305.3 L202.6,305.2 L203.1,305.2 L203.6,305.2 L204.1,305.2 L204.6,305.1 L205.1,305.1 L205.6,305.1 L206.1,305.1 L206.6,305.0 L207.1,305.0 L207.6,305.0 L208.1,305.0 L208.6,304.9 L209.1,304.9 L209.6,304.9 L210.1,304.9 L210.6,304.8 L211.1,304.8 L211.6,304.8 L212.1,304.7 L212.6,304.7 L213.1,304.7 L213.6,304.6 L214.1,304.6 L214.6,304.5 L215.1,304.5 L215.6,304.5 L216.1,304.4 L216.6,304.4 L217.1,304.3 L217.6,304.3 L218.1,304.2 L218.6,304.2 L219.1,304.2 L219.6,304.1 L220.1,304.1 L220.6,304.1 L221.1,304.0 L221.6,304.0 L222.1,304.0 L222.6,303.9 L223.1,303.9 L223.6,303.9 L224.1,303.9 L224.6,303.9 L225.1,303.8 L225.6,303.8 L226.1,303.8 L226.6,303.8 L227.1,303.8 L227.6,303.8 L228.1,303.7 L228.6,303.7 L229.1,303.7 L229.6,303.7 L230.1,303.7 L230.6,303.7 L231.1,303.7 L231.6,303.6 L232.1,303.6 L232.6,303.6 L233.1,303.6 L233.6,303.6 L234.1,303.6 L234.6,303.6 L235.1,303.6 L235.6,303.6 L236.1,303.5 L236.6,303.5 L237.1,303.5 L237.6,303.5 L238.1,303.5 L238.6,303.5 L239.1,303.5 L239.6,303.5 L240.1,303.5 L240.6,303.5 L241.1,303.5 L241.6,303.5 L242.1,303.5 L242.6,303.5 L243.1,303.5 L243.6,303.5 L244.1,303.5 L244.6,303.5 L245.1,303.5 L245.6,303.5 L246.1,303.6 L246.6,303.6 L247.1,303.6 L247.6,303.6 L248.1,303.6 L248.6,303.6 L249.1,303.6 L249.6,303.6 L250.1,303.7 L250.6,303.7 L251.1,303.7 L251.6,303.7 L252.1,303.7 L252.6,303.7 L253.1,303.8 L253.6,303.8 L254.1,303.8 L254.6,303.8 L255.1,303.9 L255.6,303.9 L256.1,303.9 L256.6,304.0 L257.1,304.1 L257.6,304.1 L258.1,304.2 L258.6,304.2 L259.1,304.3 L259.6,304.4 L260.1,304.5 L260.6,304.5 L261.1,304.6 L261.6,304.7 L262.1,304.8 L262.6,304.9 L263.1,304.9 L263.6,305.0 L264.1,305.1 L264.6,305.2 L265.1,305.2 L265.6,305.3 L266.1,305.3 L266.6,305.4 L267.1,305.5 L267.6,305.5 L268.1,305.6 L268.6,305.6 L269.1,305.7 L269.6,305.7 L270.1,305.8 L270.6,305.8 L271.1,305.9 L271.6,305.9 L272.1,306.0 L272.6,306.0 L273.1,306.1 L273.6,306.1 L274.1,306.2 L274.6,306.2 L275.1,306.3 L275.6,306.3 L276.1,306.4 L276.6,306.4 L277.1,306.5 L277.6,306.5 L278.1,306.6 L278.6,306.6 L279.1,306.7 L279.6,306.7 L280.1,306.7 L280.6,306.8 L281.1,306.8 L281.6,306.8 L282.1,306.9 L282.6,306.9 L283.1,306.9 L283.6,307.0 L284.1,307.0 L284.6,307.0 L285.1,307.0 L285.6,307.1 L286.1,307.1 L286.6,307.1 L287.1,307.1 L287.6,307.2 L288.1,307.2 L288.6,307.2 L289.1,307.2 L289.6,307.3 L290.1,307.3 L290.6,307.3 L291.1,307.3 L291.6,307.3 L292.1,307.4 L292.6,307.4 L293.1,307.4 L293.6,307.4 L294.1,307.4 L294.6,307.5 L295.1,307.5 L295.6,307.5 L296.1,307.5 L296.6,307.5 L297.1,307.5 L297.6,307.5 L298.1,307.6 L298.6,307.6 L299.1,307.6 L299.6,307.6 L300.1,307.6 L300.6,307.6 L301.1,307.6 L301.6,307.6 L302.1,307.6 L302.6,307.6 L303.1,307.6 L303.6,307.6 L304.1,307.6 L304.6,307.6 L305.1,307.6 L305.6,307.6 L306.1,307.6 L306.6,307.6 L307.1,307.6 L307.6,307.6 L308.1,307.6 L308.6,307.5 L309.1,307.5 L309.6,307.5 L310.1,307.5 L310.6,307.5 L311.1,307.5 L311.6,307.5 L312.1,307.5 L312.6,307.5 L313.1,307.5 L313.6,307.4 L314.1,307.4 L314.6,307.4 L315.1,307.4 L315.6,307.4 L316.1,307.4 L316.6,307.4 L317.1,307.4 L317.6,307.3 L318.1,307.3 L318.6,307.3 L319.1,307.3 L319.6,307.3 L320.1,307.3 L320.6,307.2 L321.1,307.2 L321.6,307.2 L322.1,307.2 L322.6,307.2 L323.1,307.2 L323.6,307.2 L324.1,307.1 L324.6,307.1 L325.1,307.1 L325.6,307.1 L326.1,307.1 L326.6,307.0 L327.1,307.0 L327.6,307.0 L328.1,306.9 L328.6,306.9 L329.1,306.9 L329.6,306.8 L330.1,306.8 L330.6,306.8 L331.1,306.7 L331.6,306.7 L332.1,306.6 L332.6,306.6 L333.1,306.5 L333.6,306.4 L334.1,306.3 L334.6,306.1 L335.1,306.0 L335.6,305.8 L336.1,305.7 L336.6,305.5 L337.1,305.3 L337.4,305.2 L337.9,304.8 L338.4,304.3 L338.9,303.9 L339.4,303.5 L339.9,303.1 L340.4,302.7 L340.9,302.3 L341.4,301.9 L341.9,301.5 L342.4,301.1 L342.9,300.7 L343.4,300.3 L343.9,300.0 L344.4,299.6 L344.9,299.3 L345.4,298.9 L345.9,298.6 L346.4,298.2 L346.9,297.9 L347.4,297.5 L347.9,297.2 L348.4,296.9 L348.9,296.5 L349.4,296.2 L349.9,295.9 L350.4,295.6 L350.9,295.3 L351.4,295.1 L351.9,294.8 L352.4,294.6 L352.9,294.4 L353.4,294.2 L353.9,294.0 L354.4,293.8 L354.9,293.6 L355.4,293.4 L355.9,293.2 L356.4,293.0 L356.9,292.9 L357.4,292.7 L357.9,292.5 L358.4,292.4 L358.9,292.2 L359.4,292.1 L359.9,291.9 L360.4,291.8 L360.9,291.7 L361.4,291.5 L361.9,291.4 L362.4,291.3 L362.9,291.2 L363.4,291.0 L363.9,290.9 L364.4,290.8 L364.9,290.7 L365.4,290.6 L365.9,290.4 L366.4,290.3 L366.9,290.2 L367.4,290.2 L367.9,290.1 L368.4,290.0 L368.9,290.0 L369.4,289.9 L369.9,289.9 L370.4,289.8 L370.9,289.8 L371.4,289.7 L371.9,289.7 L372.4,289.6 L372.9,289.6 L373.4,289.5 L373.9,289.5 L374.4,289.5 L374.9,289.4 L375.4,289.4 L375.9,289.4 L376.4,289.3 L376.9,289.3 L377.4,289.3 L377.9,289.3 L378.4,289.3 L378.9,289.3 L379.4,289.3 L379.9,289.3 L380.4,289.3 L380.9,289.3 L381.4,289.3 L381.9,289.4 L382.4,289.4 L382.9,289.4 L383.4,289.4 L383.9,289.4 L384.4,289.5 L384.9,289.5 L385.4,289.5 L385.9,289.5 L386.4,289.6 L386.9,289.6 L387.4,289.6 L387.9,289.6 L388.4,289.7 L388.9,289.7 L389.4,289.7 L389.9,289.8 L390.4,289.8 L390.9,289.9 L391.4,289.9 L391.9,290.0 L392.4,290.1 L392.9,290.1 L393.4,290.2 L393.9,290.3 L394.4,290.3 L394.9,290.4 L395.4,290.4 L395.9,290.5 L396.4,290.6 L396.9,290.6 L397.4,290.6 L397.9,290.7 L398.4,290.7 L398.9,290.7 L399.4,290.7 L399.9,290.7 L400.4,290.7 L400.9,290.7 L401.4,290.7 L401.9,290.7 L402.4,290.7 L402.9,290.8 L403.4,290.8 L403.9,290.8 L404.4,290.8 L404.9,290.8 L405.4,290.8 L405.9,290.8 L406.4,290.8 L406.9,290.8 L407.4,290.8 L407.9,290.8 L408.4,290.8 L408.9,290.8 L409.4,290.8 L409.9,290.8 L410.4,290.8 L410.9,290.8 L411.4,290.8 L411.9,290.8 L412.4,290.8 L412.9,290.8 L413.4,290.8 L413.9,290.7 L414.4,290.7 L414.9,290.7 L415.4,290.6 L415.9,290.6 L416.4,290.5 L416.9,290.4 L417.4,290.4 L417.9,290.3 L418.4,290.3 L418.9,290.2 L419.4,290.1 L419.9,290.0 L420.4,289.9 L420.9,289.9 L421.4,289.8 L421.9,289.7 L422.4,289.6 L422.9,289.5 L423.4,289.4 L423.9,289.4 L424.4,289.3 L424.9,289.2 L425.4,289.1 L425.9,289.0 L426.4,288.9 L426.9,288.9 L427.4,288.8 L427.9,288.7 L428.4,288.6 L428.9,288.5 L429.4,288.4 L429.9,288.4 L430.4,288.3 L430.9,288.2 L431.4,288.1 L431.9,288.0 L432.4,287.9 L432.9,287.8 L433.4,287.7 L433.9,287.6 L434.4,287.5 L434.9,287.4 L435.4,287.3 L435.9,287.1 L436.4,287.0 L436.9,286.9 L437.4,286.8 L437.9,286.7 L438.4,286.6 L438.9,286.5 L439.4,286.4 L439.9,286.3 L440.4,286.2 L440.9,286.1 L441.4,285.9 L441.9,285.8 L442.4,285.7 L442.9,285.6 L443.4,285.5 L443.9,285.4 L444.4,285.3 L444.9,285.2 L445.4,285.1 L445.9,285.0 L446.4,284.9 L446.9,284.8 L447.4,284.7 L447.9,284.6 L448.4,284.5 L448.9,284.4 L449.4,284.2 L449.9,284.1 L450.4,284.0 L450.9,283.9 L451.4,283.8 L451.9,283.7 L452.4,283.6 L452.9,283.5 L453.4,283.4 L453.9,283.3 L454.4,283.2 L454.9,283.1 L455.4,283.0 L455.9,282.9 L456.4,282.7 L456.9,282.6 L457.4,282.5 L457.9,282.4 L458.4,282.3 L458.9,282.2 L459.4,282.1 L459.9,282.0 L460.4,281.9 L460.9,281.8 L461.4,281.7 L461.9,281.5 L462.4,281.4 L462.9,281.3 L463.4,281.2 L463.9,281.1 L464.4,281.0 L464.9,280.9 L465.4,280.8 L465.9,280.7 L466.4,280.6 L466.9,280.4 L467.4,280.3 L467.9,280.2 L468.4,280.1 L468.9,280.0 L469.4,279.9 L469.9,279.8 L470.4,279.7 L470.9,279.6 L471.4,279.4 L471.9,279.3 L472.4,279.2 L472.9,279.1 L473.4,279.0 L473.9,278.9 L474.4,278.8 L474.9,278.7 L475.4,278.5 L475.9,278.4 L476.4,278.3 L476.9,278.2 L477.4,278.1 L477.9,278.0 L478.4,277.8 L478.9,277.7 L479.4,277.6 L479.9,277.5 L480.4,277.4 L480.9,277.3 L481.4,277.1 L481.9,277.0 L482.4,276.9 L482.9,276.8 L483.4,276.7 L483.9,276.6 L484.4,276.4 L484.9,276.3 L485.4,276.2 L485.9,276.1 L486.4,276.0 L486.9,275.8 L487.4,275.7 L487.9,275.6 L488.4,275.5 L488.9,275.3 L489.4,275.2 L489.9,275.1 L490.4,274.9 L490.9,274.8 L491.4,274.7 L491.9,274.5 L492.4,274.4 L492.9,274.3 L493.4,274.1 L493.9,274.0 L494.4,273.8 L494.9,273.7 L495.4,273.5 L495.9,273.4 L496.4,273.2 L496.9,273.1 L497.4,272.9 L497.9,272.8 L498.4,272.6 L498.9,272.5 L499.4,272.3 L499.9,272.2 L500.4,272.0 L500.9,271.8 L501.4,271.7 L501.9,271.5 L502.4,271.4 L502.9,271.2 L503.4,271.0 L503.9,270.9 L504.4,270.7 L504.9,270.5 L505.4,270.3 L505.9,270.2 L506.4,270.0 L506.9,269.8 L507.4,269.7 L507.9,269.5 L508.4,269.3 L508.9,269.1 L509.4,269.0 L509.9,268.8 L510.4,268.6 L510.9,268.4 L511.4,268.2 L511.9,268.0 L512.4,267.8 L512.9,267.7 L513.4,267.5 L513.9,267.3 L514.4,267.1 L514.9,266.9 L515.4,266.7 L515.9,266.5 L516.4,266.3 L516.9,266.1 L517.4,266.0 L517.9,265.8 L518.4,265.6 L518.9,265.4 L519.4,265.2 L519.9,265.0 L520.4,264.9 L520.9,264.7 L521.4,264.5 L521.9,264.3 L522.4,264.1 L522.9,264.0 L523.4,263.8 L523.9,263.6 L524.4,263.4 L524.9,263.2 L525.4,263.1 L525.9,262.9 L526.4,262.7 L526.9,262.5 L527.4,262.4 L527.9,262.2 L528.4,262.0 L528.9,261.8 L529.4,261.7 L529.9,261.5 L530.4,261.3 L530.9,261.1 L531.4,261.0 L531.9,260.8 L532.4,260.6 L532.9,260.4 L533.4,260.3 L533.9,260.1 L534.4,259.9 L534.9,259.7 L535.0,259.7 L535.5,259.2 L536.0,258.6 L536.5,258.0 L537.0,257.3 L537.5,256.7 L538.0,256.0 L538.5,255.3 L539.0,254.5 L539.5,253.7 L540.0,252.9 L540.5,252.0 L541.0,251.2 L541.5,250.4 L542.0,249.6 L542.5,248.9 L543.0,248.1 L543.5,247.3 L544.0,246.4 L544.5,245.6 L545.0,244.8 L545.5,244.1 L546.0,243.3 L546.5,242.6 L547.0,241.9 L547.5,241.2 L548.0,240.5 L548.5,239.9 L549.0,239.4 L549.5,238.9 L550.0,238.4 L550.5,238.0 L551.0,237.5 L551.5,237.0 L552.0,236.6 L552.5,236.2 L553.0,235.8 L553.5,235.4 L554.0,235.1 L554.5,234.7 L555.0,234.4 L555.5,234.2 L556.0,233.9 L556.5,233.7 L557.0,233.6 L557.5,233.4 L558.0,233.3 L558.5,233.1 L559.0,233.0 L559.5,232.9 L560.0,232.8 L560.5,232.7 L561.0,232.6 L561.5,232.6 L562.0,232.5 L562.5,232.5 L563.0,232.5 L563.5,232.5 L564.0,232.5 L564.5,232.6 L565.0,232.6 L565.5,232.7 L566.0,232.7 L566.5,232.8 L567.0,232.9 L567.5,232.9 L568.0,233.0 L568.5,233.1 L569.0,233.2 L569.5,233.3 L570.0,233.4 L570.5,233.5 L571.0,233.6 L571.5,233.7 L572.0,233.9 L572.5,234.1 L573.0,234.3 L573.5,234.4 L574.0,234.7 L574.5,234.9 L575.0,235.1 L575.5,235.3 L576.0,235.6 L576.5,235.8 L577.0,236.0 L577.5,236.3 L578.0,236.5 L578.5,236.7 L579.0,237.0 L579.5,237.2 L580.0,237.4 L580.5,237.6 L581.0,237.8 L581.5,238.0 L582.0,238.3 L582.5,238.5 L583.0,238.7 L583.5,238.9 L584.0,239.2 L584.5,239.4 L585.0,239.6 L585.5,239.8 L586.0,240.0 L586.5,240.1 L587.0,240.3 L587.5,240.4 L588.0,240.5 L588.5,240.6 L589.0,240.7 L589.5,240.9 L590.0,241.0 L590.5,241.1 L591.0,241.2 L591.5,241.3 L592.0,241.4 L592.5,241.4 L593.0,241.5 L593.5,241.5 L594.0,241.6 L594.5,241.6 L595.0,241.6 L595.5,241.6 L596.0,241.6 L596.5,241.5 L597.0,241.5 L597.5,241.4 L598.0,241.3 L598.5,241.2 L599.0,241.1 L599.5,241.0 L600.0,240.9 L600.5,240.8 L601.0,240.7 L601.5,240.5 L602.0,240.4 L602.5,240.3 L603.0,240.1 L603.5,239.9 L604.0,239.6 L604.5,239.3 L605.0,238.9 L605.5,238.6 L606.0,238.2 L606.5,237.8 L607.0,237.3 L607.5,236.9 L608.0,236.5 L608.5,236.1 L609.0,235.6 L609.5,235.1 L610.0,234.6 L610.5,234.1 L611.0,233.5 L611.5,233.0 L612.0,232.4 L612.5,231.8" class="y"/><path d="M30.5,306.5 L31.0,306.3 L31.5,306.0 L32.0,305.9 L32.5,305.8 L33.0,305.7 L33.5,305.6 L34.0,305.6 L34.5,305.6 L35.0,305.7 L35.5,305.8 L36.0,305.9 L36.5,306.1 L37.0,306.3 L37.5,306.4 L38.0,306.6 L38.5,306.8 L39.0,306.9 L39.5,307.1 L40.0,307.3 L40.5,307.4 L41.0,307.6 L41.5,307.8 L42.0,308.0 L42.5,308.1 L43.0,308.3 L43.5,308.5 L44.0,308.7 L44.5,308.8 L45.0,309.0 L45.5,309.2 L46.0,309.4 L46.5,309.6 L47.0,309.7 L47.5,309.9 L48.0,310.1 L48.5,310.3 L49.0,310.4 L49.5,310.6 L50.0,310.8 L50.5,310.9 L51.0,311.0 L51.5,311.2 L52.0,311.3 L52.5,311.4 L53.0,311.5 L53.5,311.6 L54.0,311.7 L54.5,311.8 L55.0,311.9 L55.5,312.0 L56.0,312.0 L56.5,312.1 L57.0,312.2 L57.5,312.3 L58.0,312.3 L58.5,312.4 L59.0,312.4 L59.5,312.5 L60.0,312.5 L60.5,312.6 L61.0,312.6 L61.5,312.6 L62.0,312.7 L62.5,312.7 L63.0,312.7 L63.5,312.8 L64.0,312.8 L64.5,312.8 L65.0,312.8 L65.5,312.9 L66.0,312.9 L66.5,312.9 L67.0,312.9 L67.5,312.9 L68.0,312.9 L68.5,312.9 L69.0,312.9 L69.5,312.8 L70.0,312.8 L70.5,312.8 L71.0,312.7 L71.5,312.7 L72.0,312.7 L72.5,312.6 L73.0,312.6 L73.5,312.5 L74.0,312.5 L74.5,312.4 L75.0,312.4 L75.5,312.3 L76.0,312.2 L76.5,312.1 L77.0,312.0 L77.5,311.9 L78.0,311.8 L78.5,311.7 L79.0,311.6 L79.5,311.4 L80.0,311.3 L80.5,311.2 L81.0,311.1 L81.5,310.9 L82.0,310.8 L82.5,310.6 L83.0,310.4 L83.5,310.2 L84.0,310.1 L84.5,309.9 L85.0,309.7 L85.5,309.5 L86.0,309.3 L86.5,309.1 L87.0,308.9 L87.5,308.6 L88.0,308.4 L88.5,308.2 L89.0,308.0 L89.5,307.8 L90.0,307.6 L90.5,307.5 L91.0,307.3 L91.5,307.1 L92.0,306.9 L92.5,306.7 L93.0,306.6 L93.5,306.4 L94.0,306.2 L94.5,306.0 L95.0,305.8 L95.5,305.7 L96.0,305.5 L96.5,305.3 L97.0,305.1 L97.5,305.0 L98.0,304.8 L98.5,304.7 L99.0,304.5 L99.5,304.4 L100.0,304.2 L100.5,304.1 L101.0,304.0 L101.5,303.8 L102.0,303.7 L102.5,303.6 L103.0,303.4 L103.5,303.3 L104.0,303.2 L104.5,303.1 L105.0,303.0 L105.5,302.9 L106.0,302.8 L106.5,302.7 L107.0,302.6 L107.5,302.5 L108.0,302.4 L108.5,302.4 L109.0,302.3 L109.5,302.2 L110.0,302.1 L110.5,302.1 L111.0,302.0 L111.5,301.9 L112.0,301.9 L112.5,301.8 L113.0,301.7 L113.5,301.7 L114.0,301.6 L114.5,301.6 L115.0,301.5 L115.5,301.5 L116.0,301.4 L116.5,301.4 L117.0,301.4 L117.5,301.3 L118.0,301.3 L118.5,301.2 L119.0,301.2 L119.5,301.1 L120.0,301.1 L120.5,301.1 L121.0,301.0 L121.5,301.0 L122.0,301.0 L122.5,300.9 L123.0,300.9 L123.5,300.9 L124.0,300.8 L124.5,300.8 L125.0,300.8 L125.5,300.8 L126.0,300.8 L126.5,300.8 L127.0,300.8 L127.5,300.9 L128.0,301.0 L128.5,301.1 L129.0,301.2 L129.5,301.3 L130.0,301.4 L130.5,301.6 L131.0,301.7 L131.5,301.9 L132.0,302.0 L132.5,302.2 L133.0,302.3 L133.5,302.5 L134.0,302.6 L134.5,302.8 L135.0,303.0 L135.5,303.2 L136.0,303.4 L136.5,303.6 L137.0,303.8 L137.5,304.0 L138.0,304.2 L138.5,304.4 L139.0,304.6 L139.5,304.8 L140.0,305.0 L140.5,305.2 L141.0,305.4 L141.5,305.5 L142.0,305.7 L142.5,305.9 L143.0,306.1 L143.5,306.2 L144.0,306.4 L144.5,306.6 L145.0,306.7 L145.5,306.9 L146.0,307.0 L146.5,307.2 L147.0,307.3 L147.5,307.4 L148.0,307.5 L148.5,307.6 L149.0,307.7 L149.5,307.8 L150.0,307.9 L150.5,308.0 L151.0,308.1 L151.5,308.2 L152.0,308.3 L152.5,308.4 L153.0,308.5 L153.5,308.5 L154.0,308.6 L154.5,308.7 L155.0,308.7 L155.5,308.8 L156.0,308.8 L156.5,308.9 L157.0,308.9 L157.5,308.9 L158.0,308.9 L158.5,308.9 L159.0,308.9 L159.5,308.9 L160.0,308.8 L160.5,308.8 L161.0,308.8 L161.5,308.7 L162.0,308.7 L162.5,308.7 L163.0,308.6 L163.5,308.6 L164.0,308.5 L164.5,308.5 L165.0,308.4 L165.5,308.4 L166.0,308.3 L166.5,308.3 L167.0,308.2 L167.5,308.2 L168.0,308.1 L168.5,308.1 L169.0,308.1 L169.5,308.0 L170.0,308.0 L170.5,307.9 L171.0,307.9 L171.5,307.8 L172.0,307.8 L172.5,307.7 L173.0,307.7 L173.5,307.6 L174.0,307.5 L174.5,307.5 L175.0,307.4 L175.5,307.4 L176.0,307.3 L176.5,307.3 L177.0,307.2 L177.5,307.2 L178.0,307.1 L178.5,307.1 L179.0,307.0 L179.5,307.0 L180.0,306.9 L180.5,306.9 L181.0,306.8 L181.5,306.8 L182.0,306.7 L182.5,306.7 L183.0,306.6 L183.5,306.6 L184.0,306.5 L184.5,306.5 L185.0,306.4 L185.5,306.4 L186.0,306.4 L186.5,306.3 L187.0,306.3 L187.5,306.2 L188.0,306.2 L188.5,306.2 L189.0,306.1 L189.5,306.1 L190.0,306.0 L190.5,306.0 L191.0,306.0 L191.5,305.9 L192.0,305.9 L192.5,305.8 L193.0,305.8 L193.5,305.8 L194.0,305.7 L194.5,305.7 L195.0,305.7 L195.5,305.6 L196.0,305.6 L196.5,305.6 L197.0,305.5 L197.5,305.5 L198.0,305.5 L198.5,305.4 L199.0,305.4 L199.5,305.4 L200.0,305.3 L200.5,305.3 L201.0,305.3 L201.5,305.3 L202.0,305.2 L202.5,305.2 L203.0,305.2 L203.5,305.1 L204.0,305.1 L204.5,305.1 L205.0,305.1 L205.5,305.0 L206.0,305.0 L206.5,305.0 L207.0,305.0 L207.5,304.9 L208.0,304.9 L208.5,304.9 L209.0,304.9 L209.5,304.8 L210.0,304.8 L210.5,304.8 L211.0,304.7 L211.5,304.7 L212.0,304.7 L212.5,304.6 L213.0,304.6 L213.5,304.5 L214.0,304.5 L214.5,304.5 L215.0,304.4 L215.5,304.4 L216.0,304.3 L216.5,304.3 L217.0,304.2 L217.5,304.2 L218.0,304.2 L218.5,304.1 L219.0,304.1 L219.5,304.1 L220.0,304.0 L220.5,304.0 L221.0,304.0 L221.5,303.9 L222.0,303.9 L222.5,303.9 L223.0,303.9 L223.5,303.9 L224.0,303.9 L224.5,303.8 L225.0,303.8 L225.5,303.8 L226.0,303.8 L226.5,303.8 L227.0,303.8 L227.5,303.8 L228.0,303.8 L228.5,303.7 L229.0,303.7 L229.5,303.7 L230.0,303.7 L230.5,303.7 L231.0,303.7 L231.5,303.7 L232.0,303.7 L232.5,303.7 L233.0,303.7 L233.5,303.7 L234.0,303.6 L234.5,303.6 L235.0,303.6 L235.5,303.6 L236.0,303.6 L236.5,303.6 L237.0,303.6 L237.5,303.6 L238.0,303.6 L238.5,303.6 L239.0,303.6 L239.5,303.6 L240.0,303.6 L240.5,303.6 L241.0,303.6 L241.5,303.6 L242.0,303.6 L242.5,303.6 L243.0,303.6 L243.5,303.6 L244.0,303.6 L244.5,303.6 L245.0,303.6 L245.5,303.7 L246.0,303.7 L246.5,303.7 L247.0,303.7 L247.5,303.7 L248.0,303.7 L248.5,303.7 L249.0,303.8 L249.5,303.8 L250.0,303.8 L250.5,303.8 L251.0,303.8 L251.5,303.8 L252.0,303.9 L252.5,303.9 L253.0,303.9 L253.5,303.9 L254.0,304.0 L254.5,304.0 L255.0,304.0 L255.5,304.1 L256.0,304.1 L256.5,304.2 L257.0,304.3 L257.5,304.3 L258.0,304.4 L258.5,304.5 L259.0,304.6 L259.5,304.6 L260.0,304.7 L260.5,304.8 L261.0,304.9 L261.5,304.9 L262.0,305.0 L262.5,305.1 L263.0,305.2 L263.5,305.2 L264.0,305.3 L264.5,305.4 L265.0,305.4 L265.5,305.5 L266.0,305.5 L266.5,305.6 L267.0,305.6 L267.5,305.7 L268.0,305.7 L268.5,305.8 L269.0,305.9 L269.5,305.9 L270.0,306.0 L270.5,306.0 L271.0,306.1 L271.5,306.1 L272.0,306.2 L272.5,306.2 L273.0,306.2 L273.5,306.3 L274.0,306.3 L274.5,306.4 L275.0,306.4 L275.5,306.5 L276.0,306.5 L276.5,306.6 L277.0,306.6 L277.5,306.6 L278.0,306.7 L278.5,306.7 L279.0,306.8 L279.5,306.8 L280.0,306.8 L280.5,306.9 L281.0,306.9 L281.5,306.9 L282.0,306.9 L282.5,307.0 L283.0,307.0 L283.5,307.0 L284.0,307.0 L284.5,307.1 L285.0,307.1 L285.5,307.1 L286.0,307.1 L286.5,307.1 L287.0,307.2 L287.5,307.2 L288.0,307.2 L288.5,307.2 L289.0,307.2 L289.5,307.3 L290.0,307.3 L290.5,307.3 L291.0,307.3 L291.5,307.3 L292.0,307.3 L292.5,307.4 L293.0,307.4 L293.5,307.4 L294.0,307.4 L294.5,307.4 L295.0,307.4 L295.5,307.4 L296.0,307.4 L296.5,307.5 L297.0,307.5 L297.5,307.5 L298.0,307.5 L298.5,307.5 L299.0,307.5 L299.5,307.5 L300.0,307.5 L300.5,307.5 L301.0,307.5 L301.5,307.5 L302.0,307.5 L302.5,307.5 L303.0,307.5 L303.5,307.5 L304.0,307.5 L304.5,307.5 L305.0,307.5 L305.5,307.5 L306.0,307.5 L306.5,307.5 L307.0,307.5 L307.5,307.4 L308.0,307.4 L308.5,307.4 L309.0,307.4 L309.5,307.4 L310.0,307.4 L310.5,307.4 L311.0,307.4 L311.5,307.4 L312.0,307.4 L312.5,307.4 L313.0,307.3 L313.5,307.3 L314.0,307.3 L314.5,307.3 L315.0,307.3 L315.5,307.3 L316.0,307.3 L316.5,307.2 L317.0,307.2 L317.5,307.2 L318.0,307.2 L318.5,307.2 L319.0,307.2 L319.5,307.2 L320.0,307.1 L320.5,307.1 L321.0,307.1 L321.5,307.1 L322.0,307.1 L322.5,307.1 L323.0,307.0 L323.5,307.0 L324.0,307.0 L324.5,307.0 L325.0,306.9 L325.5,306.9 L326.0,306.9 L326.5,306.8 L327.0,306.8 L327.5,306.8 L328.0,306.7 L328.5,306.7 L329.0,306.6 L329.5,306.6 L330.0,306.5 L330.5,306.5 L331.0,306.4 L331.5,306.4 L332.0,306.3 L332.5,306.2 L333.0,306.0 L333.5,305.9 L334.0,305.7 L334.5,305.5 L335.0,305.4 L335.5,305.2 L336.0,305.0 L336.4,304.8 L336.9,304.4 L337.4,303.9 L337.9,303.5 L338.4,303.1 L338.9,302.7 L339.4,302.3 L339.9,301.9 L340.4,301.5 L340.9,301.1 L341.4,300.7 L341.9,300.3 L342.4,299.9 L342.9,299.6 L343.4,299.2 L343.9,298.9 L344.4,298.5 L344.9,298.2 L345.4,297.8 L345.9,297.5 L346.4,297.2 L346.9,296.8 L347.4,296.5 L347.9,296.2 L348.4,295.9 L348.9,295.6 L349.4,295.3 L349.9,295.0 L350.4,294.8 L350.9,294.5 L351.4,294.3 L351.9,294.1 L352.4,293.9 L352.9,293.7 L353.4,293.5 L353.9,293.3 L354.4,293.1 L354.9,292.9 L355.4,292.8 L355.9,292.6 L356.4,292.4 L356.9,292.3 L357.4,292.1 L357.9,292.0 L358.4,291.8 L358.9,291.7 L359.4,291.6 L359.9,291.4 L360.4,291.3 L360.9,291.2 L361.4,291.1 L361.9,291.0 L362.4,290.8 L362.9,290.7 L363.4,290.6 L363.9,290.5 L364.4,290.4 L364.9,290.3 L365.4,290.2 L365.9,290.1 L366.4,290.0 L366.9,290.0 L367.4,289.9 L367.9,289.9 L368.4,289.8 L368.9,289.8 L369.4,289.7 L369.9,289.7 L370.4,289.6 L370.9,289.6 L371.4,289.6 L371.9,289.5 L372.4,289.5 L372.9,289.5 L373.4,289.4 L373.9,289.4 L374.4,289.4 L374.9,289.4 L375.4,289.3 L375.9,289.3 L376.4,289.3 L376.9,289.3 L377.4,289.3 L377.9,289.3 L378.4,289.3 L378.9,289.3 L379.4,289.3 L379.9,289.3 L380.4,289.4 L380.9,289.4 L381.4,289.4 L381.9,289.4 L382.4,289.4 L382.9,289.5 L383.4,289.5 L383.9,289.5 L384.4,289.6 L384.9,289.6 L385.4,289.6 L385.9,289.7 L386.4,289.7 L386.9,289.7 L387.4,289.8 L387.9,289.8 L388.4,289.8 L388.9,289.9 L389.4,289.9 L389.9,290.0 L390.4,290.0 L390.9,290.1 L391.4,290.2 L391.9,290.2 L392.4,290.3 L392.9,290.3 L393.4,290.4 L393.9,290.4 L394.4,290.5 L394.9,290.5 L395.4,290.6 L395.9,290.6 L396.4,290.7 L396.9,290.7 L397.4,290.7 L397.9,290.7 L398.4,290.7 L398.9,290.7 L399.4,290.7 L399.9,290.7 L400.4,290.7 L400.9,290.7 L401.4,290.7 L401.9,290.7 L402.4,290.7 L402.9,290.7 L403.4,290.7 L403.9,290.7 L404.4,290.7 L404.9,290.7 L405.4,290.7 L405.9,290.7 L406.4,290.7 L406.9,290.7 L407.4,290.7 L407.9,290.7 L408.4,290.7 L408.9,290.7 L409.4,290.7 L409.9,290.7 L410.4,290.7 L410.9,290.7 L411.4,290.7 L411.9,290.7 L412.4,290.7 L412.9,290.6 L413.4,290.6 L413.9,290.6 L414.4,290.5 L414.9,290.5 L415.4,290.4 L415.9,290.3 L416.4,290.3 L416.9,290.2 L417.4,290.2 L417.9,290.1 L418.4,290.0 L418.9,289.9 L419.4,289.8 L419.9,289.8 L420.4,289.7 L420.9,289.6 L421.4,289.5 L421.9,289.4 L422.4,289.3 L422.9,289.3 L423.4,289.2 L423.9,289.1 L424.4,289.0 L424.9,288.9 L425.4,288.8 L425.9,288.8 L426.4,288.7 L426.9,288.6 L427.4,288.5 L427.9,288.4 L428.4,288.3 L428.9,288.3 L429.4,288.2 L429.9,288.1 L430.4,288.0 L430.9,287.9 L431.4,287.8 L431.9,287.7 L432.4,287.6 L432.9,287.5 L433.4,287.4 L433.9,287.3 L434.4,287.2 L434.9,287.0 L435.4,286.9 L435.9,286.8 L436.4,286.7 L436.9,286.6 L437.4,286.5 L437.9,286.4 L438.4,286.3 L438.9,286.2 L439.4,286.1 L439.9,286.0 L440.4,285.8 L440.9,285.7 L441.4,285.6 L441.9,285.5 L442.4,285.4 L442.9,285.3 L443.4,285.2 L443.9,285.1 L444.4,285.0 L444.9,284.9 L445.4,284.8 L445.9,284.7 L446.4,284.6 L446.9,284.5 L447.4,284.4 L447.9,284.3 L448.4,284.1 L448.9,284.0 L449.4,283.9 L449.9,283.8 L450.4,283.7 L450.9,283.6 L451.4,283.5 L451.9,283.4 L452.4,283.3 L452.9,283.2 L453.4,283.1 L453.9,283.0 L454.4,282.9 L454.9,282.8 L455.4,282.6 L455.9,282.5 L456.4,282.4 L456.9,282.3 L457.4,282.2 L457.9,282.1 L458.4,282.0 L458.9,281.9 L459.4,281.8 L459.9,281.7 L460.4,281.6 L460.9,281.4 L461.4,281.3 L461.9,281.2 L462.4,281.1 L462.9,281.0 L463.4,280.9 L463.9,280.8 L464.4,280.7 L464.9,280.6 L465.4,280.5 L465.9,280.3 L466.4,280.2 L466.9,280.1 L467.4,280.0 L467.9,279.9 L468.4,279.8 L468.9,279.7 L469.4,279.6 L469.9,279.5 L470.4,279.3 L470.9,279.2 L471.4,279.1 L471.9,279.0 L472.4,278.9 L472.9,278.8 L473.4,278.7 L473.9,278.6 L474.4,278.4 L474.9,278.3 L475.4,278.2 L475.9,278.1 L476.4,278.0 L476.9,277.9 L477.4,277.7 L477.9,277.6 L478.4,277.5 L478.9,277.4 L479.4,277.3 L479.9,277.2 L480.4,277.0 L480.9,276.9 L481.4,276.8 L481.9,276.7 L482.4,276.6 L482.9,276.5 L483.4,276.3 L483.9,276.2 L484.4,276.1 L484.9,276.0 L485.4,275.8 L485.9,275.7 L486.4,275.6 L486.9,275.5 L487.4,275.4 L487.9,275.2 L488.4,275.1 L488.9,275.0 L489.4,274.8 L489.9,274.7 L490.4,274.6 L490.9,274.4 L491.4,274.3 L491.9,274.2 L492.4,274.0 L492.9,273.9 L493.4,273.7 L493.9,273.6 L494.4,273.5 L494.9,273.3 L495.4,273.2 L495.9,273.0 L496.4,272.9 L496.9,272.7 L497.4,272.6 L497.9,272.4 L498.4,272.3 L498.9,272.1 L499.4,272.0 L499.9,271.8 L500.4,271.6 L500.9,271.5 L501.4,271.3 L501.9,271.2 L502.4,271.0 L502.9,270.8 L503.4,270.7 L503.9,270.5 L504.4,270.3 L504.9,270.2 L505.4,270.0 L505.9,269.8 L506.4,269.7 L506.9,269.5 L507.4,269.3 L507.9,269.1 L508.4,269.0 L508.9,268.8 L509.4,268.6 L509.9,268.4 L510.4,268.2 L510.9,268.0 L511.4,267.9 L511.9,267.7 L512.4,267.5 L512.9,267.3 L513.4,267.1 L513.9,266.9 L514.4,266.7 L514.9,266.5 L515.4,266.3 L515.9,266.1 L516.4,266.0 L516.9,265.8 L517.4,265.6 L517.9,265.4 L518.4,265.2 L518.9,265.0 L519.4,264.9 L519.9,264.7 L520.4,264.5 L520.9,264.3 L521.4,264.1 L521.9,264.0 L522.4,263.8 L522.9,263.6 L523.4,263.4 L523.9,263.3 L524.4,263.1 L524.9,262.9 L525.4,262.7 L525.9,262.5 L526.4,262.4 L526.9,262.2 L527.4,262.0 L527.9,261.8 L528.4,261.7 L528.9,261.5 L529.4,261.3 L529.9,261.1 L530.4,261.0 L530.9,260.8 L531.4,260.6 L531.9,260.4 L532.4,260.3 L532.9,260.1 L533.2,260.0 L533.7,259.3 L534.2,258.6 L534.7,257.9 L535.2,257.2 L535.7,256.4 L536.2,255.7 L536.7,254.9 L537.2,254.2 L537.7,253.4 L538.2,252.6 L538.7,251.8 L539.2,251.0 L539.7,250.2 L540.2,249.5 L540.7,248.8 L541.2,248.0 L541.7,247.2 L542.2,246.4 L542.7,245.7 L543.2,244.9 L543.7,244.2 L544.2,243.4 L544.7,242.8 L545.2,242.1 L545.7,241.5 L546.2,240.9 L546.7,240.4 L547.2,239.9 L547.7,239.4 L548.2,239.0 L548.7,238.6 L549.2,238.2 L549.7,237.8 L550.2,237.5 L550.7,237.1 L551.2,236.8 L551.7,236.5 L552.2,236.2 L552.7,235.9 L553.2,235.7 L553.7,235.4 L554.2,235.3 L554.7,235.1 L555.2,234.9 L555.7,234.8 L556.2,234.7 L556.7,234.6 L557.2,234.4 L557.7,234.3 L558.2,234.2 L558.7,234.2 L559.2,234.1 L559.7,234.0 L560.2,234.0 L560.7,234.0 L561.2,234.0 L561.7,234.0 L562.2,234.1 L562.7,234.2 L563.2,234.3 L563.7,234.4 L564.2,234.5 L564.7,234.6 L565.2,234.7 L565.7,234.8 L566.2,235.0 L566.7,235.1 L567.2,235.2 L567.7,235.4 L568.2,235.5 L568.7,235.7 L569.2,235.9 L569.7,236.1 L570.2,236.3 L570.7,236.5 L571.2,236.7 L571.7,237.0 L572.2,237.2 L572.7,237.4 L573.2,237.6 L573.7,237.8 L574.2,238.1 L574.7,238.3 L575.2,238.5 L575.7,238.7 L576.2,238.9 L576.7,239.0 L577.2,239.3 L577.7,239.5 L578.2,239.7 L578.7,239.9 L579.2,240.1 L579.7,240.3 L580.2,240.5 L580.7,240.7 L581.2,240.9 L581.7,241.1 L582.2,241.3 L582.7,241.5 L583.2,241.6 L583.7,241.8 L584.2,241.9 L584.7,242.0 L585.2,242.1 L585.7,242.2 L586.2,242.2 L586.7,242.3 L587.2,242.4 L587.7,242.5 L588.2,242.5 L588.7,242.6 L589.2,242.7 L589.7,242.7 L590.2,242.8 L590.7,242.8 L591.2,242.8 L591.7,242.9 L592.2,242.9 L592.7,242.9 L593.2,242.9 L593.7,242.9 L594.2,242.8 L594.7,242.8 L595.2,242.7 L595.7,242.6 L596.2,242.4 L596.7,242.3 L597.2,242.2 L597.7,242.0 L598.2,241.8 L598.7,241.7 L599.2,241.5 L599.7,241.3 L600.2,241.1 L600.7,240.9 L601.2,240.7 L601.7,240.4 L602.2,240.1 L602.7,239.8 L603.2,239.4 L603.7,239.0 L604.2,238.6 L604.7,238.2 L605.2,237.8 L605.7,237.3 L606.2,236.9 L606.7,236.5 L607.2,236.0 L607.7,235.5 L608.2,235.0 L608.7,234.5 L609.2,234.0 L609.7,233.5 L610.2,232.9 L610.7,232.4 L611.2,231.8 L611.7,231.2 L612.2,230.6 L612.5,230.2" class="bl"/></svg>
<line x1="30.50" y1="220.5" x2="30.50" y2="226.5" class="t"/>
<line x1="30.50" y1="324.5" x2="30.50" y2="318.5" class="t"/>
<line x1="106.94" y1="220.5" x2="106.94" y2="226.5" class="t"/>
<line x1="106.94" y1="324.5" x2="106.94" y2="318.5" class="t"/>
<line x1="183.39" y1="220.5" x2="183.39" y2="226.5" class="t"/>
<line x1="183.39" y1="324.5" x2="183.39" y2="318.5" class="t"/>
<line x1="259.83" y1="220.5" x2="259.83" y2="226.5" class="t"/>
<line x1="259.83" y1="324.5" x2="259.83" y2="318.5" class="t"/>
<line x1="336.28" y1="220.5" x2="336.28" y2="226.5" class="t"/>
<line x1="336.28" y1="324.5" x2="336.28" y2="318.5" class="t"/>
<line x1="412.72" y1="220.5" x2="412.72" y2="226.5" class="t"/>
<line x1="412.72" y1="324.5" x2="412.72" y2="318.5" class="t"/>
<line x1="489.17" y1="220.5" x2="489.17" y2="226.5" class="t"/>
<line x1="489.17" y1="324.5" x2="489.17" y2="318.5" class="t"/>
<line x1="565.61" y1="220.5" x2="565.61" y2="226.5" class="t"/>
<line x1="565.61" y1="324.5" x2="565.61" y2="318.5" class="t"/>
<line x1="45.79" y1="220.5" x2="45.79" y2="224.0" class="t"/>
<line x1="45.79" y1="324.5" x2="45.79" y2="321.0" class="t"/>
<line x1="61.08" y1="220.5" x2="61.08" y2="224.0" class="t"/>
<line x1="61.08" y1="324.5" x2="61.08" y2="321.0" class="t"/>
<line x1="76.37" y1="220.5" x2="76.37" y2="224.0" class="t"/>
<line x1="76.37" y1="324.5" x2="76.37" y2="321.0" class="t"/>
<line x1="91.66" y1="220.5" x2="91.66" y2="224.0" class="t"/>
<line x1="91.66" y1="324.5" x2="91.66" y2="321.0" class="t"/>
<line x1="122.23" y1="220.5" x2="122.23" y2="224.0" class="t"/>
<line x1="122.23" y1="324.5" x2="122.23" y2="321.0" class="t"/>
<line x1="137.52" y1="220.5" x2="137.52" y2="224.0" class="t"/>
<line x1="137.52" y1="324.5" x2="137.52" y2="321.0" class="t"/>
<line x1="152.81" y1="220.5" x2="152.81" y2="224.0" class="t"/>
<line x1="152.81" y1="324.5" x2="152.81" y2="321.0" class="t"/>
<line x1="168.10" y1="220.5" x2="168.10" y2="224.0" class="t"/>
<line x1="168.10" y1="324.5" x2="168.10" y2="321.0" class="t"/>
<line x1="198.68" y1="220.5" x2="198.68" y2="224.0" class="t"/>
<line x1="198.68" y1="324.5" x2="198.68" y2="321.0" class="t"/>
<line x1="213.97" y1="220.5" x2="213.97" y2="224.0" class="t"/>
<line x1="213.97" y1="324.5" x2="213.97" y2="321.0" class="t"/>
<line x1="229.26" y1="220.5" x2="229.26" y2="224.0" class="t"/>
<line x1="229.26" y1="324.5" x2="229.26" y2="321.0" class="t"/>
<line x1="244.55" y1="220.5" x2="244.55" y2="224.0" class="t"/>
<line x1="244.55" y1="324.5" x2="244.55" y2="321.0" class="t"/>
<line x1="275.12" y1="220.5" x2="275.12" y2="224.0" class="t"/>
<line x1="275.12" y1="324.5" x2="275.12" y2="321.0" class="t"/>
<line x1="290.41" y1="220.5" x2="290.41" y2="224.0" class="t"/>
<line x1="290.41" y1="324.5" x2="290.41" y2="321.0" class="t"/>
<line x1="305.70" y1="220.5" x2="305.70" y2="224.0" class="t"/>
<line x1="305.70" y1="324.5" x2="305.70" y2="321.0" class="t"/>
<line x1="320.99" y1="220.5" x2="320.99" y2="224.0" class="t"/>
<line x1="320.99" y1="324.5" x2="320.99" y2="321.0" class="t"/>
<line x1="351.57" y1="220.5" x2="351.57" y2="224.0" class="t"/>
<line x1="351.57" y1="324.5" x2="351.57" y2="321.0" class="t"/>
<line x1="366.86" y1="220.5" x2="366.86" y2="224.0" class="t"/>
<line x1="366.86" y1="324.5" x2="366.86" y2="321.0" class="t"/>
<line x1="382.15" y1="220.5" x2="382.15" y2="224.0" class="t"/>
<line x1="382.15" y1="324.5" x2="382.15" y2="321.0" class="t"/>
<line x1="397.44" y1="220.5" x2="397.44" y2="224.0" class="t"/>
<line x1="397.44" y1="324.5" x2="397.44" y2="321.0" class="t"/>
<line x1="428.01" y1="220.5" x2="428.01" y2="224.0" class="t"/>
<line x1="428.01" y1="324.5" x2="428.01" y2="321.0" class="t"/>
<line x1="443.30" y1="220.5" x2="443.30" y2="224.0" class="t"/>
<line x1="443.30" y1="324.5" x2="443.30" y2="321.0" class="t"/>
<line x1="458.59" y1="220.5" x2="458.59" y2="224.0" class="t"/>
<line x1="458.59" y1="324.5" x2="458.59" y2="321.0" class="t"/>
<line x1="473.88" y1="220.5" x2="473.88" y2="224.0" class="t"/>
<line x1="473.88" y1="324.5" x2="473.88" y2="321.0" class="t"/>
<line x1="504.46" y1="220.5" x2="504.46" y2="224.0" class="t"/>
<line x1="504.46" y1="324.5" x2="504.46" y2="321.0" class="t"/>
<line x1="519.75" y1="220.5" x2="519.75" y2="224.0" class="t"/>
<line x1="519.75" y1="324.5" x2="519.75" y2="321.0" class="t"/>
<line x1="535.04" y1="220.5" x2="535.04" y2="224.0" class="t"/>
<line x1="535.04" y1="324.5" x2="535.04" y2="321.0" class="t"/>
<line x1="550.33" y1="220.5" x2="550.33" y2="224.0" class="t"/>
<line x1="550.33" y1="324.5" x2="550.33" y2="321.0" class="t"/>
<line x1="580.90" y1="220.5" x2="580.90" y2="224.0" class="t"/>
<line x1="580.90" y1="324.5" x2="580.90" y2="321.0" class="t"/>
<line x1="596.19" y1="220.5" x2="596.19" y2="224.0" class="t"/>
<line x1="596.19" y1="324.5" x2="596.19" y2="321.0" class="t"/>
<line x1="611.48" y1="220.5" x2="611.48" y2="224.0" class="t"/>
<line x1="611.48" y1="324.5" x2="611.48" y2="321.0" class="t"/>
<line x1="30.5" y1="247.50" x2="36.5" y2="247.50" class="t"/>
<line x1="612.5" y1="247.50" x2="606.5" y2="247.50" class="t"/>
<line x1="30.5" y1="282.50" x2="36.5" y2="282.50" class="t"/>
<line x1="612.5" y1="282.50" x2="606.5" y2="282.50" class="t"/>
<line x1="30.5" y1="318.50" x2="36.5" y2="318.50" class="t"/>
<line x1="612.5" y1="318.50" x2="606.5" y2="318.50" class="t"/>
<line x1="30.5" y1="229.50" x2="34.0" y2="229.50" class="t"/>
<line x1="612.5" y1="229.50" x2="609.0" y2="229.50" class="t"/>
<line x1="30.5" y1="265.50" x2="34.0" y2="265.50" class="t"/>
<line x1="612.5" y1="265.50" x2="609.0" y2="265.50" class="t"/>
<line x1="30.5" y1="300.50" x2="34.0" y2="300.50" class="t"/>
<line x1="612.5" y1="300.50" x2="609.0" y2="300.50" class="t"/>
<rect x="30.5" y="220.5" width="582.0" height="104.0" class="b"/>
<rect x="24.5" y="358.5" width="588.0" height="87.0" fill="#121212"/>
<line x1="101.73" y1="358.5" x2="101.73" y2="445.5" class="g"/>
<line x1="178.97" y1="358.5" x2="178.97" y2="445.5" class="g"/>
<line x1="256.20" y1="358.5" x2="256.20" y2="445.5" class="g"/>
<line x1="333.43" y1="358.5" x2="333.43" y2="445.5" class="g"/>
<line x1="410.66" y1="358.5" x2="410.66" y2="445.5" class="g"/>
<line x1="487.90" y1="358.5" x2="487.90" y2="445.5" class="g"/>
<line x1="565.13" y1="358.5" x2="565.13" y2="445.5" class="g"/>
<line x1="24.5" y1="361.50" x2="612.5" y2="361.50" class="g"/>
<line x1="24.5" y1="410.50" x2="612.5" y2="410.50" class="g"/>
<svg x="24.5" y="358.5" width="588.0" height="87.0" viewBox="24.5 358.5 588.0 87.0"><path d="M24.5,410.1 L63.0,410.1 L63.5,405.4 L64.0,400.0 L64.5,393.6 L65.0,386.7 L65.5,380.6 L66.0,374.7 L66.5,370.5 L67.0,368.0 L67.5,366.8 L68.0,367.7 L68.5,369.5 L69.0,372.7 L69.5,377.1 L70.0,380.7 L70.5,383.8 L71.0,386.7 L71.5,389.4 L72.0,391.8 L72.5,393.8 L73.0,395.5 L73.5,396.9 L74.0,398.1 L74.5,399.2 L75.0,400.3 L75.5,401.2 L76.0,401.9 L76.5,402.4 L77.0,402.9 L77.5,403.3 L78.0,403.6 L78.5,403.8 L79.0,404.0 L79.5,404.1 L80.0,404.3 L80.5,404.3 L81.0,404.3 L81.5,404.2 L82.0,404.2 L82.5,404.1 L83.0,404.0 L83.5,403.8 L84.0,403.7 L84.5,403.6 L85.0,403.4 L85.5,403.3 L86.0,403.2 L86.5,403.1 L87.0,403.0 L87.5,402.9 L88.0,402.8 L88.5,402.6 L89.0,402.5 L89.5,402.4 L90.0,402.3 L90.5,402.2 L91.0,402.1 L91.5,402.0 L92.0,402.0 L92.5,401.9 L93.0,401.9 L93.5,401.9 L94.0,401.9 L94.5,401.9 L95.0,401.9 L95.5,401.9 L96.0,401.9 L96.5,401.9 L97.0,401.9 L97.5,401.9 L98.0,401.9 L98.5,401.9 L99.0,401.9 L99.5,402.0 L100.0,402.0 L100.5,402.0 L101.0,402.0 L101.5,402.0 L102.0,402.0 L102.5,402.0 L103.0,402.0 L103.5,402.0 L104.0,402.0 L104.5,402.0 L105.0,402.1 L105.5,402.1 L106.0,402.1 L106.5,402.1 L107.0,402.1 L107.5,402.2 L108.0,402.2 L108.5,402.2 L109.0,402.3 L109.5,402.3 L110.0,402.4 L110.5,402.4 L111.0,402.5 L111.5,402.5 L112.0,402.7 L112.5,402.9 L113.0,403.5 L113.5,404.6 L114.0,405.8 L114.5,407.4 L115.0,409.2 L115.5,411.4 L116.0,414.4 L116.5,417.7 L117.0,420.9 L117.5,423.6 L118.0,425.6 L118.5,427.5 L119.0,429.2 L119.5,430.7 L120.0,431.9 L120.5,432.9 L121.0,433.7 L121.5,434.4 L122.0,435.0 L122.5,435.4 L123.0,435.7 L123.5,436.0 L124.0,436.2 L124.5,436.3 L125.0,436.3 L125.5,436.2 L126.0,436.0 L126.5,435.8 L127.0,435.6 L127.5,435.3 L128.0,435.0 L128.5,434.6 L129.0,434.3 L129.5,434.0 L130.0,433.7 L130.5,433.4 L131.0,433.2 L131.5,432.9 L132.0,432.5 L132.5,432.2 L133.0,431.9 L133.5,431.6 L134.0,431.3 L134.5,431.0 L135.0,430.7 L135.5,430.4 L136.0,430.1 L136.5,429.9 L137.0,429.7 L137.5,429.5 L138.0,429.3 L138.5,429.1 L139.0,428.9 L139.5,428.8 L140.0,428.6 L140.5,428.4 L141.0,428.3 L141.5,428.1 L142.0,427.9 L142.5,427.6 L143.0,427.3 L143.5,427.0 L144.0,426.7 L144.5,426.2 L145.0,425.8 L145.5,425.3 L146.0,424.7 L146.5,424.0 L147.0,423.2 L147.5,422.4 L148.0,421.7 L148.5,421.0 L149.0,420.5 L149.5,420.1 L150.0,419.8 L150.5,419.5 L151.0,419.2 L151.5,419.1 L152.0,419.0 L152.5,418.9 L153.0,418.9 L153.5,418.8 L154.0,418.8 L154.5,418.8 L155.0,418.8 L155.5,418.8 L156.0,418.9 L156.5,418.9 L157.0,419.0 L157.5,419.0 L158.0,419.1 L158.5,419.1 L159.0,419.2 L159.5,419.2 L160.0,419.3 L160.5,419.4 L161.0,419.4 L161.5,419.4 L162.0,419.5 L162.5,419.5 L163.0,419.5 L163.5,419.5 L164.0,419.5 L164.5,419.5 L165.0,419.5 L165.5,419.5 L166.0,419.5 L166.5,419.4 L167.0,419.4 L167.5,419.4 L168.0,419.4 L168.5,419.4 L169.0,419.3 L169.5,419.3 L170.0,419.3 L170.5,419.3 L171.0,419.2 L171.5,419.2 L172.0,419.2 L172.5,419.2 L173.0,419.1 L173.5,419.1 L174.0,419.1 L174.5,419.0 L175.0,419.0 L175.5,419.0 L176.0,418.9 L176.5,418.9 L177.0,418.9 L177.5,418.8 L178.0,418.8 L178.5,418.8 L179.0,418.8 L179.5,418.7 L180.0,418.7 L180.5,418.7 L181.0,418.6 L181.5,418.6 L182.0,418.6 L182.5,418.5 L183.0,418.5 L183.5,418.4 L184.0,418.4 L184.5,418.4 L185.0,418.3 L185.5,418.3 L186.0,418.2 L186.5,418.2 L187.0,418.2 L187.5,418.1 L188.0,418.1 L188.5,418.0 L189.0,418.0 L189.5,418.0 L190.0,417.9 L190.5,417.9 L191.0,417.8 L191.5,417.8 L192.0,417.8 L192.5,417.7 L193.0,417.7 L193.5,417.6 L194.0,417.6 L194.5,417.6 L195.0,417.5 L195.5,417.5 L196.0,417.5 L196.5,417.4 L197.0,417.4 L197.5,417.4 L198.0,417.3 L198.5,417.3 L199.0,417.3 L199.5,417.2 L200.0,417.2 L200.5,417.2 L201.0,417.2 L201.5,417.1 L202.0,417.1 L202.5,417.1 L203.0,417.1 L203.5,417.0 L204.0,417.0 L204.5,417.0 L205.0,417.0 L205.5,417.0 L206.0,416.9 L206.5,416.9 L207.0,416.9 L207.5,416.9 L208.0,416.9 L208.5,416.8 L209.0,416.8 L209.5,416.8 L210.0,416.8 L210.5,416.8 L211.0,416.7 L211.5,416.7 L212.0,416.7 L212.5,416.7 L213.0,416.6 L213.5,416.6 L214.0,416.6 L214.5,416.6 L215.0,416.6 L215.5,416.5 L216.0,416.5 L216.5,416.5 L217.0,416.5 L217.5,416.4 L218.0,416.4 L218.5,416.4 L219.0,416.4 L219.5,416.4 L220.0,416.4 L220.5,416.3 L221.0,416.3 L221.5,416.3 L222.0,416.3 L222.5,416.3 L223.0,416.2 L223.5,416.2 L224.0,416.2 L224.5,416.2 L225.0,416.1 L225.5,416.1 L226.0,416.0 L226.5,416.0 L227.0,415.8 L227.5,415.7 L228.0,415.4 L228.5,415.2 L229.0,414.9 L229.5,414.6 L230.0,414.2 L230.5,413.8 L231.0,413.5 L231.5,413.2 L232.0,412.9 L232.5,412.6 L233.0,412.3 L233.5,412.0 L234.0,411.8 L234.5,411.5 L235.0,411.3 L235.5,411.0 L236.0,410.8 L236.5,410.7 L237.0,410.5 L237.5,410.4 L238.0,410.2 L238.5,410.1 L239.0,410.0 L239.5,409.9 L240.0,409.8 L240.5,409.7 L241.0,409.6 L241.5,409.5 L242.0,409.4 L242.5,409.3 L243.0,409.2 L243.5,409.2 L244.0,409.1 L244.5,409.0 L245.0,409.0 L245.5,408.9 L246.0,408.9 L246.5,408.8 L247.0,408.8 L247.5,408.7 L248.0,408.6 L248.5,408.6 L249.0,408.5 L249.5,408.5 L250.0,408.4 L250.5,408.3 L251.0,408.3 L251.5,408.2 L252.0,408.1 L252.5,408.1 L253.0,408.0 L253.5,407.9 L254.0,407.8 L254.5,407.7 L255.0,407.6 L255.5,407.6 L256.0,407.5 L256.5,407.4 L257.0,407.3 L257.5,407.2 L258.0,407.1 L258.5,407.0 L259.0,406.9 L259.5,406.8 L260.0,406.7 L260.5,406.6 L261.0,406.6 L261.5,406.5 L262.0,406.4 L262.5,406.3 L263.0,406.2 L263.5,406.2 L264.0,406.1 L264.5,406.0 L265.0,406.0 L265.5,405.9 L266.0,405.9 L266.5,405.8 L267.0,405.8 L267.5,405.8 L268.0,405.7 L268.5,405.7 L269.0,405.6 L269.5,405.6 L270.0,405.6 L270.5,405.5 L271.0,405.5 L271.5,405.4 L272.0,405.4 L272.5,405.4 L273.0,405.3 L273.5,405.3 L274.0,405.3 L274.5,405.2 L275.0,405.2 L275.5,405.2 L276.0,405.2 L276.5,405.1 L277.0,405.1 L277.5,405.1 L278.0,405.1 L278.5,405.0 L279.0,405.0 L279.5,405.0 L280.0,405.0 L280.5,404.9 L281.0,404.9 L281.5,404.9 L282.0,404.9 L282.5,404.9 L283.0,404.8 L283.5,404.8 L284.0,404.8 L284.5,404.8 L285.0,404.8 L285.5,404.7 L286.0,404.7 L286.5,404.7 L287.0,404.7 L287.5,404.7 L288.0,404.6 L288.5,404.6 L289.0,404.6 L289.5,404.6 L290.0,404.6 L290.5,404.6 L291.0,404.5 L291.5,404.5 L292.0,404.5 L292.5,404.5 L293.0,404.5 L293.5,404.4 L294.0,404.4 L294.5,404.4 L295.0,404.4 L295.5,404.4 L296.0,404.4 L296.5,404.4 L297.0,404.3 L297.5,404.3 L298.0,404.3 L298.5,404.3 L299.0,404.3 L299.5,404.3 L300.0,404.3 L300.5,404.3 L301.0,404.3 L301.5,404.2 L302.0,404.2 L302.5,404.2 L303.0,404.2 L303.5,404.2 L304.0,404.2 L304.5,404.2 L305.0,404.2 L305.5,404.2 L306.0,404.2 L306.5,404.2 L307.0,404.2 L307.5,404.2 L308.0,404.2 L308.5,404.2 L309.0,404.2 L309.5,404.2 L310.0,404.2 L310.5,404.2 L311.0,404.2 L311.5,404.2 L312.0,404.2 L312.5,404.2 L313.0,404.2 L313.5,404.2 L314.0,404.2 L314.5,404.2 L315.0,404.3 L315.5,404.3 L316.0,404.3 L316.5,404.3 L317.0,404.3 L317.5,404.3 L318.0,404.3 L318.5,404.3 L319.0,404.3 L319.5,404.3 L320.0,404.3 L320.5,404.3 L321.0,404.3 L321.5,404.4 L322.0,404.4 L322.5,404.4 L323.0,404.4 L323.5,404.4 L324.0,404.4 L324.5,404.4 L325.0,404.4 L325.5,404.4 L326.0,404.4 L326.5,404.4 L327.0,404.5 L327.5,404.5 L328.0,404.5 L328.5,404.5 L329.0,404.5 L329.5,404.5 L330.0,404.5 L330.5,404.5 L331.0,404.6 L331.5,404.6 L332.0,404.6 L332.5,404.6 L333.0,404.6 L333.5,404.6 L334.0,404.7 L334.5,404.7 L335.0,404.7 L335.5,404.7 L336.0,404.8 L336.5,404.8 L337.0,404.8 L337.5,404.8 L338.0,404.9 L338.5,404.9 L339.0,404.9 L339.5,404.9 L340.0,405.0 L340.5,405.0 L341.0,405.0 L341.5,405.1 L342.0,405.1 L342.5,405.1 L343.0,405.1 L343.5,405.2 L344.0,405.2 L344.5,405.2 L345.0,405.3 L345.5,405.3 L346.0,405.3 L346.5,405.4 L347.0,405.4 L347.5,405.4 L348.0,405.5 L348.5,405.5 L349.0,405.5 L349.5,405.5 L350.0,405.6 L350.5,405.6 L351.0,405.6 L351.5,405.7 L352.0,405.7 L352.5,405.7 L353.0,405.7 L353.5,405.8 L354.0,405.8 L354.5,405.8 L355.0,405.8 L355.5,405.9 L356.0,405.9 L356.5,405.9 L357.0,405.9 L357.5,406.0 L358.0,406.0 L358.5,406.0 L359.0,406.0 L359.5,406.1 L360.0,406.1 L360.5,406.1 L361.0,406.1 L361.5,406.2 L362.0,406.2 L362.5,406.2 L363.0,406.2 L363.5,406.3 L364.0,406.3 L364.5,406.3 L365.0,406.3 L365.5,406.4 L366.0,406.4 L366.5,406.4 L367.0,406.4 L367.5,406.4 L368.0,406.5 L368.5,406.5 L369.0,406.5 L369.5,406.5 L370.0,406.6 L370.5,406.6 L371.0,406.6 L371.5,406.6 L372.0,406.7 L372.5,406.7 L373.0,406.7 L373.5,406.7 L374.0,406.8 L374.5,406.8 L375.0,406.8 L375.5,406.8 L376.0,406.8 L376.5,406.9 L377.0,406.9 L377.5,406.9 L378.0,406.9 L378.5,406.9 L379.0,407.0 L379.5,407.0 L380.0,407.0 L380.5,407.0 L381.0,407.0 L381.5,407.1 L382.0,407.1 L382.5,407.1 L383.0,407.1 L383.5,407.1 L384.0,407.1 L384.5,407.2 L385.0,407.2 L385.5,407.2 L386.0,407.2 L386.5,407.2 L387.0,407.2 L387.5,407.3 L388.0,407.3 L388.5,407.3 L389.0,407.3 L389.5,407.3 L390.0,407.3 L390.5,407.4 L391.0,407.4 L391.5,407.4 L392.0,407.4 L392.5,407.4 L393.0,407.4 L393.5,407.5 L394.0,407.5 L394.5,407.5 L395.0,407.5 L395.5,407.5 L396.0,407.5 L396.5,407.5 L397.0,407.6 L397.5,407.6 L398.0,407.6 L398.5,407.6 L399.0,407.6 L399.5,407.6 L400.0,407.6 L400.5,407.7 L401.0,407.7 L401.5,407.7 L402.0,407.7 L402.5,407.7 L403.0,407.7 L403.5,407.7 L404.0,407.8 L404.5,407.8 L405.0,407.8 L405.5,407.8 L406.0,407.8 L406.5,407.8 L407.0,407.8 L407.5,407.8 L408.0,407.9 L408.5,407.9 L409.0,407.9 L409.5,407.9 L410.0,407.9 L410.5,407.9 L411.0,407.9 L411.5,407.9 L412.0,407.9 L412.5,408.0 L413.0,408.0 L413.5,408.0 L414.0,408.0 L414.5,408.0 L415.0,408.0 L415.5,408.0 L416.0,408.0 L416.5,408.0 L417.0,408.1 L417.5,408.1 L418.0,408.1 L418.5,408.1 L419.0,408.1 L419.5,408.1 L420.0,408.1 L420.5,408.1 L421.0,408.1 L421.5,408.1 L422.0,408.2 L422.5,408.2 L423.0,408.2 L423.5,408.2 L424.0,408.2 L424.5,408.2 L425.0,408.2 L425.5,408.2 L426.0,408.2 L426.5,408.2 L427.0,408.2 L427.5,408.2 L428.0,408.3 L428.5,408.3 L429.0,408.3 L429.5,408.3 L430.0,408.3 L430.5,408.3 L431.0,408.3 L431.5,408.3 L432.0,408.3 L432.5,408.3 L433.0,408.3 L433.5,408.3 L434.0,408.4 L434.5,408.4 L435.0,408.4 L435.5,408.4 L436.0,408.4 L436.5,408.4 L437.0,408.4 L437.5,408.4 L438.0,408.4 L438.5,408.4 L439.0,408.4 L439.5,408.4 L440.0,408.4 L440.5,408.5 L441.0,408.5 L441.5,408.5 L442.0,408.5 L442.5,408.5 L443.0,408.5 L443.5,408.5 L444.0,408.5 L444.5,408.5 L445.0,408.5 L445.5,408.5 L446.0,408.5 L446.5,408.5 L447.0,408.6 L447.5,408.6 L448.0,408.6 L448.5,408.6 L449.0,408.6 L449.5,408.6 L450.0,408.6 L450.5,408.6 L451.0,408.6 L451.5,408.6 L452.0,408.6 L452.5,408.6 L453.0,408.6 L453.5,408.7 L454.0,408.7 L454.5,408.7 L455.0,408.7 L455.5,408.7 L456.0,408.7 L456.5,408.7 L457.0,408.7 L457.5,408.7 L458.0,408.7 L458.5,408.7 L459.0,408.7 L459.5,408.8 L460.0,408.8 L460.5,408.8 L461.0,408.8 L461.5,408.8 L462.0,408.8 L462.5,408.8 L463.0,408.8 L463.5,408.8 L464.0,408.8 L464.5,408.8 L465.0,408.9 L465.5,408.9 L466.0,408.9 L466.5,408.9 L467.0,408.9 L467.5,408.9 L468.0,408.9 L468.5,408.9 L469.0,408.9 L469.5,408.9 L470.0,408.9 L470.5,408.9 L471.0,409.0 L471.5,409.0 L472.0,409.0 L472.5,409.0 L473.0,409.0 L473.5,409.0 L474.0,409.0 L474.5,409.0 L475.0,409.0 L475.5,409.0 L476.0,409.0 L476.5,409.0 L477.0,409.1 L477.5,409.1 L478.0,409.1 L478.5,409.1 L479.0,409.1 L479.5,409.1 L480.0,409.1 L480.5,409.1 L481.0,409.1 L481.5,409.1 L482.0,409.1 L482.5,409.1 L483.0,409.1 L483.5,409.2 L484.0,409.2 L484.5,409.2 L485.0,409.2 L485.5,409.2 L486.0,409.2 L486.5,409.2 L487.0,409.2 L487.5,409.2 L488.0,409.2 L488.5,409.2 L489.0,409.2 L489.5,409.2 L490.0,409.3 L490.5,409.3 L491.0,409.3 L491.5,409.3 L492.0,409.3 L492.5,409.3 L493.0,409.3 L493.5,409.3 L494.0,409.3 L494.5,409.3 L495.0,409.3 L495.5,409.3 L496.0,409.3 L496.5,409.4 L497.0,409.4 L497.5,409.4 L498.0,409.4 L498.5,409.4 L499.0,409.4 L499.5,409.4 L500.0,409.4 L500.5,409.4 L501.0,409.4 L501.5,409.4 L502.0,409.4 L502.5,409.4 L503.0,409.4 L503.5,409.4 L504.0,409.5 L504.5,409.5 L505.0,409.5 L505.5,409.5 L506.0,409.5 L506.5,409.5 L507.0,409.5 L507.5,409.5 L508.0,409.5 L508.5,409.5 L509.0,409.5 L509.5,409.5 L510.0,409.5 L510.5,409.5 L511.0,409.5 L511.5,409.6 L512.0,409.6 L512.5,409.6 L513.0,409.6 L513.5,409.6 L514.0,409.6 L514.5,409.6 L515.0,409.6 L515.5,409.6 L516.0,409.6 L516.5,409.6 L517.0,409.6 L517.5,409.6 L518.0,409.6 L518.5,409.6 L519.0,409.6 L519.5,409.7 L520.0,409.7 L520.5,409.7 L521.0,409.7 L521.5,409.7 L522.0,409.7 L522.5,409.7 L523.0,409.7 L523.5,409.7 L524.0,409.7 L524.5,409.7 L525.0,409.7 L525.5,409.7 L526.0,409.7 L526.5,409.7 L527.0,409.7 L527.5,409.8 L528.0,409.8 L528.5,409.8 L529.0,409.8 L529.5,409.8 L530.0,409.8 L530.5,409.8 L531.0,409.8 L531.5,409.8 L532.0,409.8 L532.5,409.8 L533.0,409.8 L533.5,409.8 L534.0,409.8 L534.5,409.8 L535.0,409.8 L535.5,409.8 L536.0,409.9 L536.5,409.9 L537.0,409.9 L537.5,409.9 L538.0,409.9 L538.5,409.9 L539.0,409.9 L539.5,409.9 L540.0,409.9 L540.5,409.9 L541.0,409.9 L541.5,409.9 L542.0,409.9 L542.5,409.9 L543.0,409.9 L543.5,409.9 L544.0,409.9 L544.5,409.9 L545.0,410.0 L545.5,410.0 L546.0,410.0 L546.5,410.0 L547.0,410.0 L547.5,410.0 L548.0,410.0 L548.5,410.0 L549.0,410.0 L549.5,410.0 L550.0,410.0 L550.5,410.0 L551.0,410.0 L551.5,410.0 L552.0,410.0 L552.5,410.0 L553.0,410.0 L553.5,410.0 L554.0,410.0 L554.5,410.0 L555.0,410.1 L555.5,410.1 L556.0,410.1 L556.5,410.1 L557.0,410.1 L557.5,410.1 L558.0,410.1 L558.5,410.1 L559.0,410.1 L559.5,410.1 L560.0,410.1 L612.5,410.1" class="y"/><path d="M24.5,409.8 L612.5,409.8" class="bl"/></svg>
<line x1="24.50" y1="358.5" x2="24.50" y2="364.5" class="t"/>
<line x1="24.50" y1="445.5" x2="24.50" y2="439.5" class="t"/>
<line x1="101.73" y1="358.5" x2="101.73" y2="364.5" class="t"/>
<line x1="101.73" y1="445.5" x2="101.73" y2="439.5" class="t"/>
<line x1="178.97" y1="358.5" x2="178.97" y2="364.5" class="t"/>
<line x1="178.97" y1="445.5" x2="178.97" y2="439.5" class="t"/>
<line x1="256.20" y1="358.5" x2="256.20" y2="364.5" class="t"/>
<line x1="256.20" y1="445.5" x2="256.20" y2="439.5" class="t"/>
<line x1="333.43" y1="358.5" x2="333.43" y2="364.5" class="t"/>
<line x1="333.43" y1="445.5" x2="333.43" y2="439.5" class="t"/>
<line x1="410.66" y1="358.5" x2="410.66" y2="364.5" class="t"/>
<line x1="410.66" y1="445.5" x2="410.66" y2="439.5" class="t"/>
<line x1="487.90" y1="358.5" x2="487.90" y2="364.5" class="t"/>
<line x1="487.90" y1="445.5" x2="487.90" y2="439.5" class="t"/>
<line x1="565.13" y1="358.5" x2="565.13" y2="364.5" class="t"/>
<line x1="565.13" y1="445.5" x2="565.13" y2="439.5" class="t"/>
<line x1="39.95" y1="358.5" x2="39.95" y2="362.0" class="t"/>
<line x1="39.95" y1="445.5" x2="39.95" y2="442.0" class="t"/>
<line x1="55.39" y1="358.5" x2="55.39" y2="362.0" class="t"/>
<line x1="55.39" y1="445.5" x2="55.39" y2="442.0" class="t"/>
<line x1="70.84" y1="358.5" x2="70.84" y2="362.0" class="t"/>
<line x1="70.84" y1="445.5" x2="70.84" y2="442.0" class="t"/>
<line x1="86.29" y1="358.5" x2="86.29" y2="362.0" class="t"/>
<line x1="86.29" y1="445.5" x2="86.29" y2="442.0" class="t"/>
<line x1="117.18" y1="358.5" x2="117.18" y2="362.0" class="t"/>
<line x1="117.18" y1="445.5" x2="117.18" y2="442.0" class="t"/>
<line x1="132.63" y1="358.5" x2="132.63" y2="362.0" class="t"/>
<line x1="132.63" y1="445.5" x2="132.63" y2="442.0" class="t"/>
<line x1="148.07" y1="358.5" x2="148.07" y2="362.0" class="t"/>
<line x1="148.07" y1="445.5" x2="148.07" y2="442.0" class="t"/>
<line x1="163.52" y1="358.5" x2="163.52" y2="362.0" class="t"/>
<line x1="163.52" y1="445.5" x2="163.52" y2="442.0" class="t"/>
<line x1="194.41" y1="358.5" x2="194.41" y2="362.0" class="t"/>
<line x1="194.41" y1="445.5" x2="194.41" y2="442.0" class="t"/>
<line x1="209.86" y1="358.5" x2="209.86" y2="362.0" class="t"/>
<line x1="209.86" y1="445.5" x2="209.86" y2="442.0" class="t"/>
<line x1="225.31" y1="358.5" x2="225.31" y2="362.0" class="t"/>
<line x1="225.31" y1="445.5" x2="225.31" y2="442.0" class="t"/>
<line x1="240.75" y1="358.5" x2="240.75" y2="362.0" class="t"/>
<line x1="240.75" y1="445.5" x2="240.75" y2="442.0" class="t"/>
<line x1="271.65" y1="358.5" x2="271.65" y2="362.0" class="t"/>
<line x1="271.65" y1="445.5" x2="271.65" y2="442.0" class="t"/>
<line x1="287.09" y1="358.5" x2="287.09" y2="362.0" class="t"/>
<line x1="287.09" y1="445.5" x2="287.09" y2="442.0" class="t"/>
<line x1="302.54" y1="358.5" x2="302.54" y2="362.0" class="t"/>
<line x1="302.54" y1="445.5" x2="302.54" y2="442.0" class="t"/>
<line x1="317.99" y1="358.5" x2="317.99" y2="362.0" class="t"/>
<line x1="317.99" y1="445.5" x2="317.99" y2="442.0" class="t"/>
<line x1="348.88" y1="358.5" x2="348.88" y2="362.0" class="t"/>
<line x1="348.88" y1="445.5" x2="348.88" y2="442.0" class="t"/>
<line x1="364.33" y1="358.5" x2="364.33" y2="362.0" class="t"/>
<line x1="364.33" y1="445.5" x2="364.33" y2="442.0" class="t"/>
<line x1="379.77" y1="358.5" x2="379.77" y2="362.0" class="t"/>
<line x1="379.77" y1="445.5" x2="379.77" y2="442.0" class="t"/>
<line x1="395.22" y1="358.5" x2="395.22" y2="362.0" class="t"/>
<line x1="395.22" y1="445.5" x2="395.22" y2="442.0" class="t"/>
<line x1="426.11" y1="358.5" x2="426.11" y2="362.0" class="t"/>
<line x1="426.11" y1="445.5" x2="426.11" y2="442.0" class="t"/>
<line x1="441.56" y1="358.5" x2="441.56" y2="362.0" class="t"/>
<line x1="441.56" y1="445.5" x2="441.56" y2="442.0" class="t"/>
<line x1="457.00" y1="358.5" x2="457.00" y2="362.0" class="t"/>
<line x1="457.00" y1="445.5" x2="457.00" y2="442.0" class="t"/>
<line x1="472.45" y1="358.5" x2="472.45" y2="362.0" class="t"/>
<line x1="472.45" y1="445.5" x2="472.45" y2="442.0" class="t"/>
<line x1="503.34" y1="358.5" x2="503.34" y2="362.0" class="t"/>
<line x1="503.34" y1="445.5" x2="503.34" y2="442.0" class="t"/>
<line x1="518.79" y1="358.5" x2="518.79" y2="362.0" class="t"/>
<line x1="518.79" y1="445.5" x2="518.79" y2="442.0" class="t"/>
<line x1="534.24" y1="358.5" x2="534.24" y2="362.0" class="t"/>
<line x1="534.24" y1="445.5" x2="534.24" y2="442.0" class="t"/>
<line x1="549.68" y1="358.5" x2="549.68" y2="362.0" class="t"/>
<line x1="549.68" y1="445.5" x2="549.68" y2="442.0" class="t"/>
<line x1="580.58" y1="358.5" x2="580.58" y2="362.0" class="t"/>
<line x1="580.58" y1="445.5" x2="580.58" y2="442.0" class="t"/>
<line x1="596.02" y1="358.5" x2="596.02" y2="362.0" class="t"/>
<line x1="596.02" y1="445.5" x2="596.02" y2="442.0" class="t"/>
<line x1="611.47" y1="358.5" x2="611.47" y2="362.0" class="t"/>
<line x1="611.47" y1="445.5" x2="611.47" y2="442.0" class="t"/>
<line x1="24.5" y1="361.50" x2="30.5" y2="361.50" class="t"/>
<line x1="612.5" y1="361.50" x2="606.5" y2="361.50" class="t"/>
<line x1="24.5" y1="410.50" x2="30.5" y2="410.50" class="t"/>
<line x1="612.5" y1="410.50" x2="606.5" y2="410.50" class="t"/>
<line x1="24.5" y1="385.50" x2="28.0" y2="385.50" class="t"/>
<line x1="612.5" y1="385.50" x2="609.0" y2="385.50" class="t"/>
<line x1="24.5" y1="434.50" x2="28.0" y2="434.50" class="t"/>
<line x1="612.5" y1="434.50" x2="609.0" y2="434.50" class="t"/>
<rect x="24.5" y="358.5" width="588.0" height="87.0" class="b"/>
<!-- window controls -->
<g stroke="#1a1a1a" stroke-width="1" fill="none" shape-rendering="crispEdges">
<line x1="513" y1="15.5" x2="523" y2="15.5"/>
<rect x="558.5" y="10.5" width="9" height="9"/>
</g>
<g stroke="#1a1a1a" stroke-width="1.1" fill="none">
<line x1="604" y1="10" x2="614.5" y2="20.5"/><line x1="614.5" y1="10" x2="604" y2="20.5"/>
</g>
<!-- matlab logo -->
<g>
<polygon points="9,15.3 11.2,14.4 13.6,13.3 16,11.5 17.9,9.7 18.9,8.7 16,14.6 14.1,17.9 11.2,17" fill="#2f8fd6"/>
<polygon points="14.2,13.7 16.4,12.2 15.6,14.4 14.6,15.3" fill="#2b4f7c"/>
<polygon points="18.9,8.4 19.9,8.0 20.6,12 18.5,17 16.2,21.6 14.8,19.6 14.0,17.8 16,14.4" fill="#a3271b"/>
<polygon points="19.7,8.6 20.6,9.2 21.0,16.2 18.6,19.2 16.4,21.7 15.2,20.4 18.2,15.6" fill="#ee8a24"/>
<polygon points="20.2,8.0 20.9,8.6 22.3,13.6 24.7,18.9 23.2,17.9 21.6,16.5 20.7,16.0 20.4,12" fill="#c8431e"/>
</g>
<!-- quick access bar -->
<polygon points="440,45 447,34 622,34 622,56 447,56" fill="#6a90b4"/>
<!-- config icon -->
<polygon points="457.2,43.2 464.6,37.3 464.6,48.5 462.4,47.6" fill="#c5e4fb"/>
<line x1="457.2" y1="43.2" x2="464.6" y2="37.3" stroke="#3d5f80" stroke-width="0.7"/><line x1="464.6" y1="37.3" x2="464.6" y2="46" stroke="#2a2a2a" stroke-width="0.9"/>
<line x1="457.2" y1="43.2" x2="462.6" y2="47.8" stroke="#4d6f90" stroke-width="0.6"/>
<rect x="466.6" y="37.4" width="2.9" height="7" fill="#c5e4fb" stroke="#222" stroke-width="1"/>
<g transform="translate(467.4,47.4)">
<polygon points="-1.07,-3.75 -0.83,-5.23 0.83,-5.23 1.07,-3.75 1.89,-3.41 3.12,-4.29 4.29,-3.12 3.41,-1.89 3.75,-1.07 5.23,-0.83 5.23,0.83 3.75,1.07 3.41,1.89 4.29,3.12 3.12,4.29 1.89,3.41 1.07,3.75 0.83,5.23 -0.83,5.23 -1.07,3.75 -1.89,3.41 -3.12,4.29 -4.29,3.12 -3.41,1.89 -3.75,1.07 -5.23,0.83 -5.23,-0.83 -3.75,-1.07 -3.41,-1.89 -4.29,-3.12 -3.12,-4.29 -1.89,-3.41" fill="#ececec" stroke="#2e2e2e" stroke-width="0.9" stroke-linejoin="round"/>
<circle r="2.0" fill="#8c8c8c"/><circle r="1.1" fill="#7a7a7a"/>
</g>
<!-- play -->
<polygon points="485.7,37.6 497.4,45 485.7,52.4" fill="#c6f3bf" stroke="#3c4a3c" stroke-width="1" stroke-linejoin="miter"/>
<!-- step -->
<rect x="510" y="37.9" width="2.7" height="14.4" fill="#c6f3bf" stroke="#18a018" stroke-width="1"/>
<polygon points="515.4,38.3 523.6,45 515.4,51.9" fill="#c6f3bf" stroke="#18a018" stroke-width="1.1"/>
<!-- stop -->
<rect x="537" y="39" width="12" height="12" rx="1" fill="#ac95a8" stroke="#544f5a" stroke-width="1"/>
<!-- separator -->
<line x1="560.5" y1="35.5" x2="560.5" y2="54" stroke="#b3a59b" stroke-width="1" shape-rendering="crispEdges"/>
<!-- help -->
<circle cx="577.5" cy="44.5" r="6.9" fill="#fff" stroke="#3a8fe0" stroke-width="1.1"/>
<text x="577.5" y="49" font-family="Liberation Sans, Arial, sans-serif" font-weight="bold" font-size="12.5" text-anchor="middle" fill="#111">?</text>
<!-- undock -->
<rect x="599.7" y="37.5" width="11.6" height="11.9" rx="1" fill="#5a5a5a" stroke="#fafafa" stroke-width="1.3"/>
<rect x="596.6" y="47.4" width="5" height="4.9" rx="0.8" fill="#5a5a5a" stroke="#fafafa" stroke-width="1.3"/>
<g stroke="#fafafa" stroke-width="1.1" fill="none"><line x1="602.2" y1="46.6" x2="605.6" y2="43.5"/><polyline points="602.4,43.3 606,43.3 606,46.9"/></g>

</svg>
<div class="ttl" style="left:222.5px;top:66px">Roll (deg)</div>
<div class="ttl" style="left:221px;top:204px;letter-spacing:0.1px">AoA (deg)</div>
<div class="ttl" style="left:218.1px;top:342px;letter-spacing:0.15px">AoS (deg)</div>
<div class="yl" style="left:0;width:28.5px;top:95.2px">20</div>
<div class="yl" style="left:0;width:28.5px;top:129.9px">0</div>
<div class="yl" style="left:0;width:28.5px;top:164.6px">-20</div>
<div class="yl" style="left:0;width:25.8px;top:240.2px">15</div>
<div class="yl" style="left:0;width:25.8px;top:275.5px">10</div>
<div class="yl" style="left:0;width:25.8px;top:310.9px">5</div>
<div class="yl" style="left:0;width:19.4px;top:353.2px">2</div>
<div class="yl" style="left:0;width:19.4px;top:403px">0</div>
<div class="xl" style="left:4.5px;top:448px">0</div>
<div class="xl" style="left:81.7px;top:448px">10</div>
<div class="xl" style="left:159.0px;top:448px">20</div>
<div class="xl" style="left:236.2px;top:448px">30</div>
<div class="xl" style="left:313.4px;top:448px">40</div>
<div class="xl" style="left:390.7px;top:448px">50</div>
<div class="xl" style="left:467.9px;top:448px">60</div>
<div class="xl" style="left:545.1px;top:448px">70</div>
<div id="status"><span style="left:8px">Ready</span><span style="left:482.5px">Sample based</span><span style="left:572px;transform-origin:0 0;transform:scaleX(0.972)">T=76.1333</span></div>
<div id="lb"></div><div id="rb"></div><div id="bb"></div>
</div>
</body></html>
